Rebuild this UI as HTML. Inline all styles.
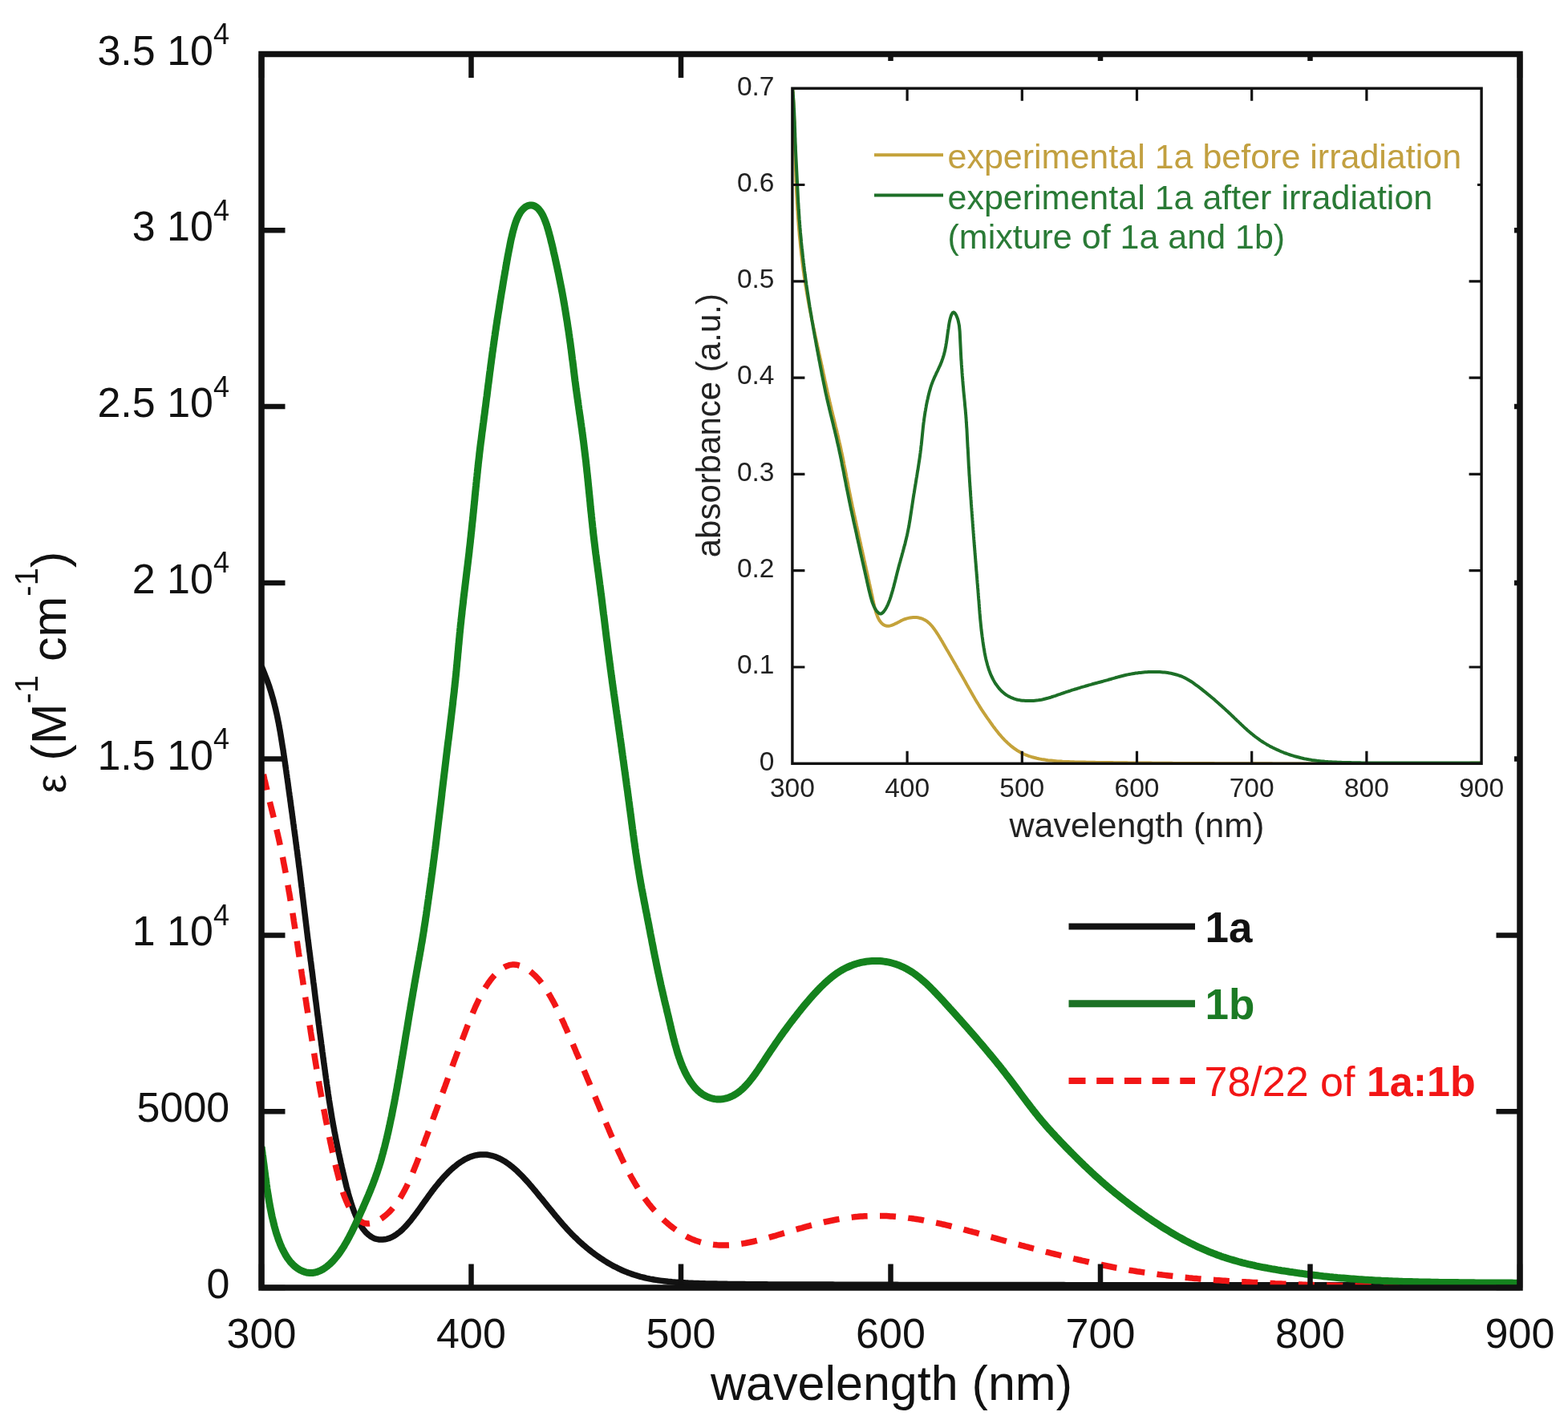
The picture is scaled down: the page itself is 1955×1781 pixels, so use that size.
<!DOCTYPE html>
<html><head><meta charset="utf-8"><title>Absorption spectra</title>
<style>
html,body{margin:0;padding:0;background:#fff;}
body{width:1955px;height:1781px;overflow:hidden;}
svg{display:block;}
</style></head><body>
<svg xmlns="http://www.w3.org/2000/svg" width="1955" height="1781" viewBox="0 0 1955 1781">
<rect x="0" y="0" width="1955" height="1781" fill="#ffffff"/>
<defs><clipPath id="cm"><rect x="326.0" y="67.5" width="1569.0" height="1538.5"/></clipPath><clipPath id="ci"><rect x="987.9" y="110.2" width="859.2" height="842.1"/></clipPath></defs>
<g clip-path="url(#cm)" fill="none" stroke-linejoin="round">
<path d="M326.1,831.0L327.0,833.3 328.0,835.6 328.9,837.9 329.8,840.2 330.7,842.6 331.6,844.9 332.5,847.2 333.4,849.6 334.2,851.9 335.1,854.3 335.9,856.6 336.6,859.0 337.4,861.4 338.1,863.7 338.8,866.1 339.5,868.5 340.2,870.9 340.9,873.3 341.5,875.8 342.1,878.2 342.7,880.6 343.3,883.0 343.9,885.5 344.4,887.9 345.0,890.4 345.5,892.8 346.0,895.3 346.5,897.7 347.0,900.2 347.5,902.6 347.9,905.1 348.4,907.6 348.8,910.0 349.3,912.5 349.7,915.0 350.1,917.4 350.5,919.9 350.9,922.4 351.3,924.8 351.7,927.3 352.1,929.8 352.5,932.3 352.9,934.7 353.3,937.2 353.6,939.7 354.0,942.2 354.4,944.7 354.7,947.1 355.1,949.6 355.5,952.1 355.8,954.6 356.2,957.1 356.5,959.5 356.9,962.0 357.2,964.5 357.6,967.0 357.9,969.5 358.3,972.0 358.6,974.4 359.0,976.9 359.3,979.4 359.6,981.9 360.0,984.4 360.3,986.8 360.7,989.3 361.0,991.8 361.4,994.3 361.7,996.8 362.0,999.2 362.4,1001.7 362.7,1004.2 363.0,1006.7 363.4,1009.2 363.7,1011.7 364.1,1014.1 364.4,1016.6 364.7,1019.1 365.1,1021.6 365.4,1024.1 365.7,1026.5 366.1,1029.0 366.4,1031.5 366.7,1034.0 367.1,1036.5 367.4,1039.0 367.7,1041.4 368.1,1043.9 368.4,1046.4 368.7,1048.9 369.0,1051.4 369.4,1053.9 369.7,1056.3 370.0,1058.8 370.4,1061.3 370.7,1063.8 371.0,1066.3 371.3,1068.8 371.7,1071.2 372.0,1073.7 372.3,1076.2 372.6,1078.7 372.9,1081.2 373.3,1083.7 373.6,1086.1 373.9,1088.6 374.2,1091.1 374.5,1093.6 374.8,1096.1 375.1,1098.6 375.4,1101.1 375.7,1103.5 376.0,1106.0 376.4,1108.5 376.6,1111.0 376.9,1113.5 377.2,1116.0 377.5,1118.5 377.8,1120.9 378.1,1123.4 378.4,1125.9 378.7,1128.4 379.0,1130.9 379.3,1133.4 379.6,1135.9 379.9,1138.4 380.2,1140.8 380.5,1143.3 380.8,1145.8 381.1,1148.3 381.4,1150.8 381.7,1153.3 382.0,1155.8 382.3,1158.2 382.6,1160.7 382.9,1163.2 383.2,1165.7 383.5,1168.2 383.8,1170.7 384.1,1173.2 384.5,1175.6 384.8,1178.1 385.1,1180.6 385.4,1183.1 385.7,1185.6 386.1,1188.1 386.4,1190.5 386.7,1193.0 387.0,1195.5 387.3,1198.0 387.7,1200.5 388.0,1203.0 388.3,1205.4 388.6,1207.9 388.9,1210.4 389.3,1212.9 389.6,1215.4 389.9,1217.9 390.2,1220.4 390.5,1222.8 390.8,1225.3 391.2,1227.8 391.5,1230.3 391.8,1232.8 392.1,1235.3 392.4,1237.7 392.7,1240.2 393.0,1242.7 393.3,1245.2 393.6,1247.7 394.0,1250.2 394.3,1252.7 394.6,1255.1 394.9,1257.6 395.2,1260.1 395.5,1262.6 395.8,1265.1 396.2,1267.6 396.5,1270.0 396.8,1272.5 397.1,1275.0 397.4,1277.5 397.8,1280.0 398.1,1282.5 398.4,1285.0 398.7,1287.4 399.1,1289.9 399.4,1292.4 399.7,1294.9 400.1,1297.4 400.4,1299.8 400.7,1302.3 401.1,1304.8 401.4,1307.3 401.7,1309.8 402.0,1312.3 402.4,1314.7 402.7,1317.2 403.0,1319.7 403.4,1322.2 403.7,1324.7 404.0,1327.2 404.4,1329.6 404.7,1332.1 405.1,1334.6 405.4,1337.1 405.7,1339.6 406.1,1342.0 406.4,1344.5 406.8,1347.0 407.1,1349.5 407.4,1352.0 407.8,1354.4 408.1,1356.9 408.5,1359.4 408.9,1361.9 409.2,1364.3 409.6,1366.8 410.0,1369.3 410.3,1371.8 410.7,1374.2 411.1,1376.7 411.5,1379.2 411.9,1381.7 412.3,1384.1 412.7,1386.6 413.1,1389.1 413.5,1391.5 413.9,1394.0 414.3,1396.5 414.8,1398.9 415.2,1401.4 415.6,1403.8 416.1,1406.3 416.6,1408.8 417.0,1411.2 417.5,1413.7 418.0,1416.1 418.4,1418.6 418.9,1421.1 419.4,1423.5 419.9,1426.0 420.4,1428.4 420.9,1430.9 421.4,1433.4 421.9,1435.8 422.4,1438.3 423.0,1440.7 423.5,1443.2 424.0,1445.7 424.6,1448.2 425.1,1450.6 425.7,1453.1 426.2,1455.6 426.8,1458.1 427.3,1460.5 427.9,1463.0 428.5,1465.5 429.1,1468.0 429.7,1470.5 430.3,1473.0 430.9,1475.5 431.5,1478.0 432.1,1480.5 432.8,1483.0 433.5,1485.5 434.1,1488.0 434.8,1490.5 435.5,1492.9 436.3,1495.4 437.0,1497.9 437.8,1500.4 438.6,1502.9 439.4,1505.3 440.3,1507.8 441.2,1510.2 442.1,1512.6 443.1,1515.0 444.1,1517.4 445.2,1519.7 446.3,1522.0 447.4,1524.3 448.7,1526.5 449.9,1528.6 451.3,1530.7 452.7,1532.8 454.2,1534.7 455.8,1536.6 457.5,1538.3 459.3,1539.9 461.2,1541.4 463.1,1542.7 465.2,1543.8 467.4,1544.8 469.7,1545.4 472.1,1545.9 474.5,1546.0 477.0,1546.0 479.5,1545.8 481.9,1545.3 484.2,1544.7 486.5,1543.9 488.7,1542.9 490.8,1541.8 492.9,1540.5 494.9,1539.1 496.9,1537.6 498.8,1536.1 500.7,1534.4 502.5,1532.7 504.3,1530.9 506.0,1529.1 507.8,1527.2 509.4,1525.2 511.1,1523.3 512.7,1521.3 514.3,1519.2 515.9,1517.2 517.4,1515.1 519.0,1513.1 520.5,1511.0 522.0,1508.9 523.6,1506.8 525.1,1504.6 526.6,1502.5 528.1,1500.4 529.6,1498.3 531.1,1496.2 532.6,1494.1 534.1,1492.0 535.6,1489.9 537.2,1487.8 538.7,1485.7 540.3,1483.7 541.8,1481.6 543.4,1479.6 545.1,1477.6 546.7,1475.6 548.3,1473.6 550.0,1471.7 551.7,1469.7 553.4,1467.8 555.2,1466.0 557.0,1464.1 558.7,1462.3 560.6,1460.5 562.4,1458.8 564.3,1457.1 566.2,1455.4 568.2,1453.9 570.1,1452.3 572.1,1450.8 574.2,1449.4 576.3,1448.1 578.4,1446.8 580.5,1445.6 582.7,1444.5 584.9,1443.5 587.2,1442.6 589.5,1441.8 591.8,1441.2 594.1,1440.7 596.5,1440.3 598.9,1440.0 601.3,1439.9 603.7,1439.9 606.1,1440.0 608.5,1440.3 610.9,1440.8 613.2,1441.3 615.6,1442.0 617.9,1442.8 620.1,1443.7 622.4,1444.7 624.6,1445.8 626.7,1447.0 628.9,1448.2 631.0,1449.6 633.0,1451.0 635.0,1452.4 637.0,1454.0 639.0,1455.5 640.9,1457.2 642.8,1458.8 644.7,1460.5 646.5,1462.3 648.3,1464.1 650.1,1465.9 651.9,1467.7 653.6,1469.6 655.3,1471.4 657.1,1473.3 658.8,1475.2 660.4,1477.1 662.1,1479.1 663.8,1481.0 665.4,1483.0 667.1,1484.9 668.7,1486.9 670.3,1488.8 671.9,1490.8 673.5,1492.8 675.1,1494.7 676.7,1496.7 678.3,1498.7 679.9,1500.6 681.5,1502.6 683.1,1504.6 684.7,1506.5 686.3,1508.5 687.9,1510.4 689.5,1512.4 691.1,1514.3 692.7,1516.3 694.3,1518.2 695.9,1520.1 697.5,1522.1 699.2,1524.0 700.8,1525.9 702.4,1527.8 704.1,1529.6 705.8,1531.5 707.5,1533.4 709.2,1535.2 710.9,1537.0 712.6,1538.8 714.4,1540.6 716.2,1542.4 718.0,1544.1 719.8,1545.8 721.6,1547.6 723.4,1549.2 725.3,1550.9 727.2,1552.6 729.1,1554.2 731.0,1555.8 732.9,1557.4 734.9,1559.0 736.8,1560.5 738.8,1562.1 740.8,1563.6 742.8,1565.0 744.9,1566.5 746.9,1567.9 749.0,1569.3 751.1,1570.7 753.2,1572.1 755.3,1573.4 757.4,1574.7 759.6,1576.0 761.8,1577.2 763.9,1578.4 766.1,1579.6 768.4,1580.7 770.6,1581.8 772.8,1582.9 775.1,1584.0 777.4,1585.0 779.7,1585.9 782.0,1586.9 784.3,1587.7 786.7,1588.6 789.0,1589.4 791.4,1590.2 793.8,1590.9 796.2,1591.6 798.6,1592.3 801.0,1592.9 803.4,1593.5 805.8,1594.1 808.3,1594.6 810.7,1595.1 813.2,1595.5 815.6,1596.0 818.1,1596.4 820.6,1596.8 823.0,1597.1 825.5,1597.4 828.0,1597.7 830.5,1598.0 833.0,1598.3 835.5,1598.5 838.0,1598.8 840.5,1599.0 843.0,1599.2 845.5,1599.3 848.0,1599.5 850.5,1599.7 853.0,1599.8 855.5,1599.9 858.0,1600.1 860.5,1600.2 863.0,1600.3 865.5,1600.4 868.0,1600.5 870.6,1600.6 873.1,1600.7 875.6,1600.7 878.1,1600.8 880.6,1600.9 883.1,1600.9 885.6,1601.0 888.1,1601.0 890.6,1601.1 893.1,1601.1 895.6,1601.2 898.2,1601.2 900.7,1601.3 903.2,1601.3 905.7,1601.3 908.2,1601.4 910.7,1601.4 913.2,1601.5 915.7,1601.5 918.2,1601.5 920.7,1601.5 923.2,1601.6 925.7,1601.6 928.2,1601.6 930.8,1601.7 933.3,1601.7 935.8,1601.7 938.3,1601.7 940.8,1601.7 943.3,1601.8 945.8,1601.8 948.3,1601.8 950.8,1601.8 953.3,1601.8 955.8,1601.8 958.3,1601.9 960.8,1601.9 963.3,1601.9 965.8,1601.9 968.3,1601.9 970.8,1601.9 973.3,1601.9 975.8,1601.9 978.3,1602.0 980.8,1602.0 983.4,1602.0 985.9,1602.0 988.4,1602.0 990.9,1602.0 993.4,1602.0 995.9,1602.0 998.4,1602.0 1000.9,1602.0 1003.4,1602.0 1005.9,1602.0 1008.4,1602.1 1010.9,1602.1 1013.4,1602.1 1015.9,1602.1 1018.4,1602.1 1020.9,1602.1 1023.4,1602.1 1025.9,1602.1 1028.4,1602.1 1030.9,1602.1 1033.4,1602.1 1035.9,1602.1 1038.4,1602.1 1040.9,1602.2 1043.4,1602.2 1046.0,1602.2 1048.5,1602.2 1051.0,1602.2 1053.5,1602.2 1056.0,1602.2 1058.5,1602.2 1061.0,1602.2 1063.5,1602.2 1066.0,1602.2 1068.5,1602.2 1071.0,1602.2 1073.5,1602.2 1076.0,1602.2 1078.5,1602.3 1081.0,1602.3 1083.5,1602.3 1086.0,1602.3 1088.5,1602.3 1091.0,1602.3 1093.5,1602.3 1096.0,1602.3 1098.5,1602.3 1101.1,1602.3 1103.6,1602.3 1106.1,1602.3 1108.6,1602.3 1111.1,1602.3 1113.6,1602.3 1116.1,1602.3 1118.6,1602.3 1121.1,1602.4 1123.6,1602.4 1126.1,1602.4 1128.6,1602.4 1131.1,1602.4 1133.6,1602.4 1136.1,1602.4 1138.6,1602.4 1141.1,1602.4 1143.6,1602.4 1146.1,1602.4 1148.6,1602.4 1151.1,1602.4 1153.6,1602.4 1156.2,1602.4 1158.7,1602.4 1161.2,1602.4 1163.7,1602.4 1166.2,1602.4 1168.7,1602.4 1171.2,1602.5 1173.7,1602.5 1176.2,1602.5 1178.7,1602.5 1181.2,1602.5 1183.7,1602.5 1186.2,1602.5 1188.7,1602.5 1191.2,1602.5 1193.7,1602.5 1196.2,1602.5 1198.7,1602.5 1201.2,1602.5 1203.7,1602.5 1206.2,1602.5 1208.8,1602.5 1211.3,1602.5 1213.8,1602.5 1216.3,1602.5 1218.8,1602.5 1221.3,1602.5 1223.8,1602.5 1226.3,1602.5 1228.8,1602.5 1231.3,1602.5 1233.8,1602.5 1236.3,1602.6 1238.8,1602.6 1241.3,1602.6 1243.8,1602.6 1246.3,1602.6 1248.8,1602.6 1251.3,1602.6 1253.8,1602.6 1256.3,1602.6 1258.8,1602.6 1261.3,1602.6 1263.9,1602.6 1266.4,1602.6 1268.9,1602.6 1271.4,1602.6 1273.9,1602.6 1276.4,1602.6 1278.9,1602.6 1281.4,1602.6 1283.9,1602.6 1286.4,1602.6 1288.9,1602.6 1291.4,1602.6 1293.9,1602.6 1296.4,1602.6 1298.9,1602.6 1301.4,1602.6 1303.9,1602.6 1306.4,1602.6 1308.9,1602.6 1311.4,1602.6 1313.9,1602.6 1316.5,1602.6 1319.0,1602.6 1321.5,1602.6 1324.0,1602.6 1326.5,1602.6 1329.0,1602.7 1331.5,1602.7 1334.0,1602.7 1336.5,1602.7 1339.0,1602.7 1341.5,1602.7 1344.0,1602.7 1346.5,1602.7 1349.0,1602.7 1351.5,1602.7 1354.0,1602.7 1356.5,1602.7 1359.0,1602.7 1361.5,1602.7 1364.0,1602.7 1366.5,1602.7 1369.0,1602.7 1371.6,1602.7 1374.1,1602.7 1376.6,1602.7 1379.1,1602.7 1381.6,1602.7 1384.1,1602.7 1386.6,1602.7 1389.1,1602.7 1391.6,1602.7 1394.1,1602.7 1396.6,1602.7 1399.1,1602.7 1401.6,1602.7 1404.1,1602.7 1406.6,1602.7 1409.1,1602.7 1411.6,1602.7 1414.1,1602.7 1416.6,1602.7 1419.1,1602.7 1421.6,1602.7 1424.2,1602.7 1426.7,1602.7 1429.2,1602.7 1431.7,1602.7 1434.2,1602.7 1436.7,1602.7 1439.2,1602.7 1441.7,1602.7 1444.2,1602.7 1446.7,1602.7 1449.2,1602.7 1451.7,1602.7 1454.2,1602.7 1456.7,1602.7 1459.2,1602.7 1461.7,1602.7 1464.2,1602.7 1466.7,1602.7 1469.2,1602.7 1471.7,1602.7 1474.2,1602.7 1476.7,1602.7 1479.3,1602.7 1481.8,1602.7 1484.3,1602.7 1486.8,1602.7 1489.3,1602.7 1491.8,1602.7 1494.3,1602.7 1496.8,1602.7 1499.3,1602.7 1501.8,1602.7 1504.3,1602.7 1506.8,1602.7 1509.3,1602.7 1511.8,1602.7 1514.3,1602.7 1516.8,1602.7 1519.3,1602.7 1521.8,1602.7 1524.3,1602.7 1526.8,1602.7 1529.3,1602.7 1531.8,1602.7 1534.4,1602.7 1536.9,1602.7 1539.4,1602.7 1541.9,1602.7 1544.4,1602.7 1546.9,1602.7 1549.4,1602.7 1551.9,1602.7 1554.4,1602.7 1556.9,1602.7 1559.4,1602.7 1561.9,1602.7 1564.4,1602.7 1566.9,1602.7 1569.4,1602.7 1571.9,1602.7 1574.4,1602.7 1576.9,1602.7 1579.4,1602.7 1581.9,1602.7 1584.4,1602.7 1586.9,1602.7 1589.5,1602.7 1592.0,1602.7 1594.5,1602.7 1597.0,1602.7 1599.5,1602.7 1602.0,1602.7 1604.5,1602.7 1607.0,1602.7 1609.5,1602.7 1612.0,1602.7 1614.5,1602.7 1617.0,1602.7 1619.5,1602.7 1622.0,1602.7 1624.5,1602.7 1627.0,1602.7 1629.5,1602.7 1632.0,1602.7 1634.5,1602.7 1637.0,1602.7 1639.5,1602.7 1642.0,1602.7 1644.6,1602.7 1647.1,1602.7 1649.6,1602.7 1652.1,1602.7 1654.6,1602.7 1657.1,1602.7 1659.6,1602.7 1662.1,1602.7 1664.6,1602.7 1667.1,1602.7 1669.6,1602.7 1672.1,1602.7 1674.6,1602.7 1677.1,1602.7 1679.6,1602.7 1682.1,1602.7 1684.6,1602.7 1687.1,1602.7 1689.6,1602.6 1692.1,1602.6 1694.6,1602.6 1697.1,1602.6 1699.6,1602.6 1702.2,1602.6 1704.7,1602.6 1707.2,1602.6 1709.7,1602.6 1712.2,1602.6 1714.7,1602.6 1717.2,1602.6 1719.7,1602.6 1722.2,1602.6 1724.7,1602.6 1727.2,1602.6 1729.7,1602.6 1732.2,1602.6 1734.7,1602.6 1737.2,1602.6 1739.7,1602.6 1742.2,1602.6 1744.7,1602.6 1747.2,1602.6 1749.7,1602.6 1752.2,1602.6 1754.7,1602.6 1757.3,1602.6 1759.8,1602.6 1762.3,1602.6 1764.8,1602.6 1767.3,1602.6 1769.8,1602.6 1772.3,1602.6 1774.8,1602.6 1777.3,1602.6 1779.8,1602.6 1782.3,1602.6 1784.8,1602.6 1787.3,1602.6 1789.8,1602.6 1792.3,1602.6 1794.8,1602.6 1797.3,1602.6 1799.8,1602.6 1802.3,1602.6 1804.8,1602.6 1807.3,1602.6 1809.8,1602.6 1812.4,1602.6 1814.9,1602.6 1817.4,1602.6 1819.9,1602.6 1822.4,1602.6 1824.9,1602.6 1827.4,1602.6 1829.9,1602.6 1832.4,1602.5 1834.9,1602.5 1837.4,1602.5 1839.9,1602.5 1842.4,1602.5 1844.9,1602.5 1847.4,1602.5 1849.9,1602.5 1852.4,1602.5 1854.9,1602.5 1857.4,1602.5 1859.9,1602.5 1862.4,1602.5 1864.9,1602.5 1867.5,1602.5 1870.0,1602.5 1872.5,1602.5 1875.0,1602.5 1877.5,1602.5 1880.0,1602.5 1882.5,1602.5 1885.0,1602.5 1887.5,1602.5 1890.0,1602.5 1892.5,1602.5 1895.0,1602.5" stroke="#121212" stroke-width="7.5"/>
<path d="M326.0,955.0L326.5,957.4 327.1,959.9 327.6,962.3 328.2,964.8 328.7,967.2 329.3,969.7 329.8,972.1 330.4,974.5 331.0,977.0 331.5,979.4 332.1,981.8 332.7,984.3 333.2,986.7 333.8,989.2 334.4,991.6 335.0,994.0 335.6,996.5 336.1,998.9 336.7,1001.3 337.3,1003.8 337.9,1006.2 338.5,1008.6 339.1,1011.0 339.7,1013.5 340.3,1015.9 340.9,1018.3 341.5,1020.8 342.1,1023.2 342.7,1025.6 343.3,1028.1 343.9,1030.5 344.4,1032.9 345.0,1035.4 345.6,1037.8 346.2,1040.2 346.7,1042.7 347.3,1045.1 347.8,1047.5 348.4,1050.0 348.9,1052.4 349.4,1054.9 350.0,1057.3 350.5,1059.8 351.0,1062.2 351.5,1064.7 352.0,1067.1 352.5,1069.6 353.0,1072.0 353.4,1074.5 353.9,1076.9 354.4,1079.4 354.9,1081.9 355.3,1084.3 355.8,1086.8 356.3,1089.2 356.7,1091.7 357.2,1094.2 357.6,1096.6 358.1,1099.1 358.5,1101.5 358.9,1104.0 359.4,1106.5 359.8,1108.9 360.2,1111.4 360.7,1113.9 361.1,1116.3 361.5,1118.8 361.9,1121.3 362.3,1123.7 362.8,1126.2 363.2,1128.7 363.6,1131.2 364.0,1133.6 364.4,1136.1 364.8,1138.6 365.2,1141.0 365.6,1143.5 366.0,1146.0 366.3,1148.5 366.7,1150.9 367.1,1153.4 367.5,1155.9 367.9,1158.3 368.3,1160.8 368.6,1163.3 369.0,1165.8 369.4,1168.2 369.8,1170.7 370.1,1173.2 370.5,1175.7 370.9,1178.1 371.2,1180.6 371.6,1183.1 372.0,1185.6 372.3,1188.0 372.7,1190.5 373.1,1193.0 373.4,1195.5 373.8,1198.0 374.2,1200.4 374.5,1202.9 374.9,1205.4 375.2,1207.9 375.6,1210.3 376.0,1212.8 376.3,1215.3 376.7,1217.8 377.1,1220.2 377.5,1222.7 377.8,1225.2 378.2,1227.7 378.6,1230.1 379.0,1232.6 379.4,1235.1 379.7,1237.6 380.1,1240.0 380.5,1242.5 380.9,1245.0 381.3,1247.5 381.7,1249.9 382.0,1252.4 382.4,1254.9 382.8,1257.3 383.2,1259.8 383.6,1262.3 384.0,1264.8 384.3,1267.2 384.7,1269.7 385.1,1272.2 385.5,1274.7 385.9,1277.1 386.3,1279.6 386.7,1282.1 387.1,1284.5 387.4,1287.0 387.8,1289.5 388.2,1292.0 388.6,1294.4 389.0,1296.9 389.4,1299.4 389.8,1301.9 390.2,1304.3 390.6,1306.8 390.9,1309.3 391.3,1311.7 391.7,1314.2 392.1,1316.7 392.5,1319.2 392.9,1321.6 393.3,1324.1 393.7,1326.6 394.1,1329.0 394.5,1331.5 394.9,1334.0 395.3,1336.4 395.7,1338.9 396.2,1341.4 396.6,1343.8 397.0,1346.3 397.4,1348.8 397.8,1351.2 398.2,1353.7 398.7,1356.1 399.1,1358.6 399.5,1361.1 400.0,1363.5 400.4,1366.0 400.9,1368.4 401.3,1370.9 401.8,1373.3 402.2,1375.8 402.7,1378.2 403.2,1380.7 403.6,1383.2 404.1,1385.6 404.6,1388.1 405.1,1390.5 405.5,1393.0 406.0,1395.4 406.5,1397.9 407.0,1400.3 407.5,1402.8 408.0,1405.3 408.5,1407.7 409.0,1410.2 409.5,1412.6 410.0,1415.1 410.5,1417.6 411.0,1420.1 411.5,1422.5 412.0,1425.0 412.6,1427.5 413.1,1430.0 413.6,1432.4 414.2,1434.9 414.7,1437.4 415.3,1439.9 415.8,1442.4 416.4,1444.9 416.9,1447.4 417.5,1449.9 418.1,1452.5 418.7,1455.0 419.3,1457.5 419.9,1460.0 420.6,1462.5 421.2,1465.1 421.9,1467.6 422.5,1470.1 423.2,1472.7 423.9,1475.2 424.7,1477.7 425.4,1480.3 426.2,1482.8 427.0,1485.3 427.8,1487.7 428.7,1490.2 429.6,1492.7 430.6,1495.1 431.5,1497.5 432.6,1499.9 433.6,1502.3 434.8,1504.6 436.0,1506.8 437.2,1509.0 438.5,1511.2 439.9,1513.2 441.3,1515.2 442.9,1517.1 444.5,1518.9 446.2,1520.5 448.0,1522.0 449.8,1523.3 451.7,1524.4 453.7,1525.3 455.8,1525.8 457.9,1526.1 460.1,1526.0 462.3,1525.7 464.5,1525.2 466.7,1524.4 468.9,1523.5 471.1,1522.4 473.3,1521.2 475.5,1519.8 477.6,1518.2 479.7,1516.6 481.8,1514.9 483.7,1513.1 485.7,1511.2 487.5,1509.3 489.3,1507.3 491.0,1505.3 492.6,1503.2 494.2,1501.1 495.7,1499.0 497.2,1496.8 498.6,1494.7 500.0,1492.5 501.3,1490.2 502.5,1488.0 503.8,1485.7 505.0,1483.5 506.1,1481.2 507.3,1478.9 508.4,1476.6 509.5,1474.3 510.5,1472.0 511.6,1469.7 512.6,1467.4 513.6,1465.0 514.6,1462.7 515.5,1460.4 516.5,1458.0 517.4,1455.7 518.4,1453.3 519.3,1451.0 520.2,1448.7 521.1,1446.3 522.0,1444.0 522.9,1441.6 523.8,1439.3 524.6,1436.9 525.5,1434.5 526.4,1432.2 527.3,1429.8 528.1,1427.5 529.0,1425.1 529.9,1422.8 530.7,1420.4 531.6,1418.1 532.5,1415.7 533.3,1413.4 534.2,1411.1 535.1,1408.7 535.9,1406.4 536.8,1404.0 537.7,1401.7 538.5,1399.3 539.4,1397.0 540.2,1394.6 541.1,1392.3 542.0,1389.9 542.8,1387.6 543.7,1385.2 544.6,1382.9 545.4,1380.6 546.3,1378.2 547.1,1375.9 548.0,1373.5 548.9,1371.2 549.7,1368.8 550.6,1366.5 551.4,1364.1 552.3,1361.8 553.2,1359.4 554.0,1357.1 554.9,1354.7 555.7,1352.4 556.6,1350.0 557.4,1347.7 558.3,1345.3 559.1,1343.0 560.0,1340.7 560.9,1338.3 561.7,1336.0 562.6,1333.6 563.4,1331.3 564.3,1328.9 565.2,1326.6 566.0,1324.2 566.9,1321.9 567.8,1319.5 568.7,1317.2 569.5,1314.8 570.4,1312.5 571.3,1310.1 572.2,1307.8 573.1,1305.4 573.9,1303.1 574.8,1300.7 575.7,1298.3 576.6,1296.0 577.5,1293.6 578.4,1291.3 579.3,1288.9 580.2,1286.5 581.1,1284.2 582.0,1281.8 582.9,1279.4 583.9,1277.1 584.8,1274.7 585.8,1272.3 586.7,1269.9 587.7,1267.6 588.7,1265.2 589.7,1262.8 590.7,1260.5 591.7,1258.1 592.7,1255.8 593.8,1253.4 594.9,1251.1 596.0,1248.7 597.1,1246.4 598.3,1244.1 599.5,1241.8 600.7,1239.5 601.9,1237.3 603.2,1235.0 604.5,1232.8 605.9,1230.6 607.3,1228.5 608.7,1226.3 610.2,1224.2 611.7,1222.1 613.3,1220.1 614.9,1218.2 616.6,1216.3 618.4,1214.4 620.1,1212.7 622.0,1211.1 623.9,1209.5 625.9,1208.1 627.9,1206.8 630.0,1205.6 632.1,1204.7 634.3,1203.9 636.5,1203.4 638.7,1203.1 641.0,1203.0 643.3,1203.2 645.6,1203.7 647.8,1204.3 650.1,1205.1 652.3,1206.0 654.5,1207.1 656.6,1208.4 658.7,1209.8 660.7,1211.2 662.7,1212.8 664.6,1214.5 666.5,1216.2 668.3,1218.0 670.1,1219.8 671.8,1221.7 673.4,1223.7 675.0,1225.7 676.6,1227.7 678.1,1229.8 679.5,1231.9 681.0,1234.0 682.3,1236.2 683.7,1238.3 685.0,1240.6 686.3,1242.8 687.5,1245.0 688.8,1247.3 690.0,1249.6 691.2,1251.8 692.4,1254.1 693.5,1256.4 694.7,1258.7 695.8,1261.0 696.9,1263.3 698.0,1265.6 699.1,1267.9 700.1,1270.2 701.2,1272.5 702.3,1274.8 703.3,1277.1 704.3,1279.5 705.4,1281.8 706.4,1284.1 707.4,1286.4 708.4,1288.7 709.4,1291.0 710.4,1293.4 711.4,1295.7 712.4,1298.0 713.4,1300.3 714.4,1302.6 715.4,1304.9 716.4,1307.2 717.4,1309.6 718.3,1311.9 719.3,1314.2 720.3,1316.5 721.3,1318.8 722.3,1321.1 723.2,1323.4 724.2,1325.7 725.2,1328.0 726.1,1330.3 727.1,1332.6 728.1,1334.9 729.1,1337.2 730.0,1339.5 731.0,1341.8 732.0,1344.2 732.9,1346.5 733.9,1348.8 734.9,1351.1 735.8,1353.4 736.8,1355.7 737.8,1358.0 738.7,1360.3 739.7,1362.6 740.7,1364.9 741.6,1367.2 742.6,1369.5 743.6,1371.8 744.5,1374.1 745.5,1376.5 746.5,1378.8 747.4,1381.1 748.4,1383.4 749.3,1385.7 750.3,1388.0 751.3,1390.3 752.2,1392.6 753.2,1394.9 754.2,1397.2 755.1,1399.5 756.1,1401.9 757.1,1404.2 758.1,1406.5 759.1,1408.8 760.0,1411.1 761.0,1413.4 762.0,1415.7 763.0,1418.0 764.0,1420.3 765.0,1422.6 766.0,1424.9 767.1,1427.2 768.1,1429.4 769.1,1431.7 770.2,1434.0 771.2,1436.3 772.3,1438.6 773.4,1440.8 774.4,1443.1 775.5,1445.4 776.6,1447.6 777.7,1449.9 778.8,1452.1 780.0,1454.3 781.1,1456.6 782.3,1458.8 783.4,1461.0 784.6,1463.2 785.8,1465.5 787.0,1467.7 788.2,1469.8 789.5,1472.0 790.7,1474.2 792.0,1476.4 793.3,1478.5 794.6,1480.7 795.9,1482.8 797.2,1484.9 798.6,1487.0 800.0,1489.1 801.4,1491.2 802.8,1493.2 804.3,1495.3 805.8,1497.3 807.3,1499.3 808.8,1501.3 810.4,1503.2 812.0,1505.2 813.6,1507.1 815.3,1509.0 817.0,1510.8 818.7,1512.7 820.4,1514.5 822.2,1516.3 824.0,1518.1 825.8,1519.8 827.6,1521.6 829.5,1523.3 831.4,1524.9 833.3,1526.6 835.2,1528.2 837.2,1529.8 839.1,1531.3 841.2,1532.8 843.2,1534.3 845.2,1535.7 847.3,1537.1 849.4,1538.5 851.6,1539.8 853.7,1541.0 855.9,1542.2 858.2,1543.3 860.4,1544.4 862.7,1545.4 865.0,1546.3 867.3,1547.2 869.7,1548.0 872.1,1548.8 874.5,1549.5 876.9,1550.1 879.3,1550.7 881.8,1551.2 884.3,1551.6 886.7,1552.0 889.2,1552.3 891.7,1552.6 894.2,1552.8 896.7,1552.9 899.2,1553.0 901.7,1553.1 904.2,1553.1 906.7,1553.0 909.2,1552.9 911.7,1552.7 914.2,1552.5 916.7,1552.3 919.2,1552.0 921.6,1551.6 924.1,1551.3 926.6,1550.9 929.0,1550.5 931.5,1550.0 934.0,1549.5 936.4,1549.0 938.9,1548.5 941.3,1547.9 943.7,1547.3 946.2,1546.7 948.6,1546.1 951.0,1545.5 953.5,1544.8 955.9,1544.2 958.3,1543.5 960.7,1542.8 963.2,1542.1 965.6,1541.5 968.0,1540.8 970.4,1540.0 972.8,1539.3 975.2,1538.6 977.6,1537.9 980.1,1537.2 982.5,1536.5 984.9,1535.8 987.3,1535.1 989.7,1534.3 992.1,1533.6 994.5,1532.9 996.9,1532.2 999.4,1531.6 1001.8,1530.9 1004.2,1530.2 1006.6,1529.5 1009.0,1528.9 1011.5,1528.2 1013.9,1527.6 1016.3,1527.0 1018.7,1526.4 1021.2,1525.8 1023.6,1525.2 1026.0,1524.6 1028.5,1524.0 1030.9,1523.5 1033.4,1523.0 1035.8,1522.5 1038.3,1522.0 1040.7,1521.5 1043.2,1521.0 1045.7,1520.6 1048.1,1520.2 1050.6,1519.8 1053.1,1519.4 1055.5,1519.0 1058.0,1518.7 1060.5,1518.4 1063.0,1518.1 1065.4,1517.8 1067.9,1517.6 1070.4,1517.3 1072.9,1517.1 1075.4,1517.0 1077.9,1516.8 1080.4,1516.7 1082.9,1516.6 1085.4,1516.5 1087.9,1516.4 1090.4,1516.4 1092.9,1516.4 1095.4,1516.4 1097.9,1516.4 1100.4,1516.4 1102.9,1516.5 1105.4,1516.6 1107.9,1516.7 1110.3,1516.9 1112.8,1517.0 1115.3,1517.2 1117.8,1517.4 1120.3,1517.6 1122.8,1517.9 1125.3,1518.2 1127.8,1518.4 1130.3,1518.7 1132.7,1519.1 1135.2,1519.4 1137.7,1519.7 1140.2,1520.1 1142.7,1520.5 1145.1,1520.9 1147.6,1521.3 1150.1,1521.7 1152.5,1522.2 1155.0,1522.6 1157.5,1523.1 1159.9,1523.6 1162.4,1524.1 1164.8,1524.6 1167.3,1525.1 1169.7,1525.6 1172.2,1526.1 1174.6,1526.7 1177.1,1527.2 1179.5,1527.8 1181.9,1528.4 1184.4,1529.0 1186.8,1529.6 1189.2,1530.2 1191.7,1530.8 1194.1,1531.4 1196.5,1532.0 1198.9,1532.7 1201.4,1533.3 1203.8,1534.0 1206.2,1534.6 1208.6,1535.3 1211.0,1535.9 1213.4,1536.6 1215.9,1537.2 1218.3,1537.9 1220.7,1538.6 1223.1,1539.3 1225.5,1539.9 1227.9,1540.6 1230.3,1541.3 1232.8,1541.9 1235.2,1542.6 1237.6,1543.3 1240.0,1544.0 1242.4,1544.6 1244.8,1545.3 1247.2,1546.0 1249.6,1546.7 1252.0,1547.3 1254.5,1548.0 1256.9,1548.7 1259.3,1549.3 1261.7,1550.0 1264.1,1550.7 1266.5,1551.3 1268.9,1552.0 1271.4,1552.6 1273.8,1553.3 1276.2,1553.9 1278.6,1554.6 1281.0,1555.2 1283.4,1555.9 1285.9,1556.5 1288.3,1557.2 1290.7,1557.8 1293.1,1558.4 1295.5,1559.1 1298.0,1559.7 1300.4,1560.3 1302.8,1561.0 1305.2,1561.6 1307.7,1562.2 1310.1,1562.8 1312.5,1563.4 1314.9,1564.0 1317.4,1564.6 1319.8,1565.2 1322.2,1565.8 1324.7,1566.4 1327.1,1567.0 1329.5,1567.6 1332.0,1568.2 1334.4,1568.7 1336.8,1569.3 1339.3,1569.9 1341.7,1570.4 1344.2,1571.0 1346.6,1571.5 1349.0,1572.1 1351.5,1572.6 1353.9,1573.2 1356.4,1573.7 1358.8,1574.3 1361.2,1574.8 1363.7,1575.4 1366.1,1575.9 1368.6,1576.4 1371.0,1577.0 1373.5,1577.5 1375.9,1578.0 1378.4,1578.5 1380.8,1579.0 1383.3,1579.5 1385.7,1580.0 1388.2,1580.5 1390.6,1581.0 1393.1,1581.4 1395.6,1581.9 1398.0,1582.3 1400.5,1582.8 1402.9,1583.2 1405.4,1583.6 1407.9,1584.1 1410.3,1584.5 1412.8,1584.9 1415.3,1585.3 1417.8,1585.7 1420.2,1586.0 1422.7,1586.4 1425.2,1586.8 1427.7,1587.1 1430.1,1587.5 1432.6,1587.8 1435.1,1588.2 1437.6,1588.5 1440.0,1588.8 1442.5,1589.1 1445.0,1589.5 1447.5,1589.8 1450.0,1590.1 1452.5,1590.4 1455.0,1590.7 1457.4,1591.0 1459.9,1591.3 1462.4,1591.6 1464.9,1591.8 1467.4,1592.1 1469.9,1592.4 1472.4,1592.7 1474.8,1592.9 1477.3,1593.2 1479.8,1593.4 1482.3,1593.7 1484.8,1593.9 1487.3,1594.2 1489.8,1594.4 1492.3,1594.6 1494.8,1594.9 1497.3,1595.1 1499.8,1595.3 1502.3,1595.5 1504.8,1595.7 1507.2,1595.9 1509.7,1596.1 1512.2,1596.3 1514.7,1596.5 1517.2,1596.7 1519.7,1596.8 1522.2,1597.0 1524.7,1597.2 1527.2,1597.3 1529.7,1597.5 1532.2,1597.7 1534.7,1597.8 1537.2,1598.0 1539.7,1598.1 1542.2,1598.3 1544.7,1598.4 1547.2,1598.6 1549.7,1598.7 1552.2,1598.8 1554.7,1599.0 1557.2,1599.1 1559.7,1599.2 1562.2,1599.4 1564.7,1599.5 1567.2,1599.6 1569.7,1599.8 1572.2,1599.9 1574.7,1600.0 1577.2,1600.2 1579.7,1600.3 1582.2,1600.4 1584.7,1600.5 1587.2,1600.6 1589.7,1600.8 1592.2,1600.9 1594.7,1601.0 1597.2,1601.1 1599.7,1601.2 1602.2,1601.3 1604.7,1601.4 1607.2,1601.5 1609.7,1601.6 1612.2,1601.7 1614.7,1601.8 1617.2,1601.9 1619.7,1602.0 1622.2,1602.1 1624.7,1602.2 1627.2,1602.3 1629.7,1602.4 1632.2,1602.4 1634.7,1602.5 1637.2,1602.6 1639.7,1602.7 1642.2,1602.8 1644.7,1602.8 1647.2,1602.9 1649.7,1603.0 1652.2,1603.0 1654.7,1603.1 1657.2,1603.2 1659.7,1603.2 1662.2,1603.3 1664.7,1603.3 1667.2,1603.4 1669.7,1603.5 1672.2,1603.5 1674.8,1603.6 1677.3,1603.6 1679.8,1603.7 1682.3,1603.7 1684.8,1603.8 1687.3,1603.8 1689.8,1603.8 1692.3,1603.9 1694.8,1603.9 1697.3,1604.0 1699.8,1604.0 1702.3,1604.1 1704.8,1604.1 1707.3,1604.1 1709.8,1604.2 1712.3,1604.2 1714.8,1604.2 1717.3,1604.3 1719.8,1604.3 1722.3,1604.3 1724.8,1604.4 1727.3,1604.4 1729.8,1604.4 1732.3,1604.5 1734.8,1604.5 1737.3,1604.5 1739.8,1604.5 1742.3,1604.6 1744.8,1604.6 1747.3,1604.6 1749.8,1604.6 1752.3,1604.7 1754.8,1604.7 1757.3,1604.7 1759.8,1604.7 1762.3,1604.7 1764.8,1604.8 1767.4,1604.8 1769.9,1604.8 1772.4,1604.8 1774.9,1604.8 1777.4,1604.9 1779.9,1604.9 1782.4,1604.9 1784.9,1604.9 1787.4,1604.9 1789.9,1604.9 1792.4,1605.0 1794.9,1605.0 1797.4,1605.0 1799.9,1605.0 1802.4,1605.0 1804.9,1605.0 1807.4,1605.1 1809.9,1605.1 1812.4,1605.1 1814.9,1605.1 1817.4,1605.1 1819.9,1605.1 1822.4,1605.1 1824.9,1605.2 1827.4,1605.2 1829.9,1605.2 1832.4,1605.2 1834.9,1605.2 1837.4,1605.2 1839.9,1605.2 1842.4,1605.2 1844.9,1605.3 1847.4,1605.3 1849.9,1605.3 1852.5,1605.3 1855.0,1605.3 1857.5,1605.3 1860.0,1605.3 1862.5,1605.3 1865.0,1605.4 1867.5,1605.4 1870.0,1605.4 1872.5,1605.4 1875.0,1605.4 1877.5,1605.4 1880.0,1605.4 1882.5,1605.4 1885.0,1605.5 1887.5,1605.5 1890.0,1605.5 1892.5,1605.5 1895.0,1605.5" stroke="#f21616" stroke-width="7.5" stroke-dasharray="20 15.38" stroke-dashoffset="24.38"/>
<path d="M326.0,1430.0L326.3,1432.5 326.7,1435.0 327.0,1437.4 327.3,1439.9 327.7,1442.4 328.0,1444.9 328.3,1447.3 328.6,1449.8 329.0,1452.3 329.3,1454.8 329.6,1457.2 329.9,1459.7 330.3,1462.2 330.6,1464.7 330.9,1467.2 331.2,1469.7 331.6,1472.1 331.9,1474.6 332.2,1477.1 332.6,1479.6 332.9,1482.1 333.3,1484.6 333.7,1487.1 334.1,1489.5 334.5,1492.0 334.9,1494.5 335.3,1497.0 335.7,1499.5 336.2,1502.0 336.6,1504.5 337.1,1507.0 337.6,1509.5 338.1,1512.0 338.6,1514.5 339.1,1517.0 339.7,1519.5 340.3,1521.9 340.9,1524.4 341.5,1526.9 342.1,1529.4 342.8,1531.9 343.5,1534.4 344.2,1536.8 345.0,1539.3 345.8,1541.7 346.6,1544.2 347.4,1546.6 348.4,1549.0 349.3,1551.4 350.3,1553.8 351.3,1556.1 352.4,1558.4 353.6,1560.7 354.8,1562.9 356.0,1565.1 357.3,1567.3 358.7,1569.4 360.2,1571.4 361.7,1573.4 363.3,1575.2 365.0,1577.0 366.8,1578.7 368.7,1580.3 370.6,1581.7 372.7,1583.1 374.8,1584.3 376.9,1585.3 379.1,1586.1 381.4,1586.8 383.7,1587.3 386.0,1587.5 388.3,1587.6 390.6,1587.4 392.8,1587.0 395.1,1586.4 397.3,1585.6 399.5,1584.7 401.6,1583.6 403.7,1582.3 405.7,1581.0 407.7,1579.5 409.6,1577.9 411.5,1576.3 413.3,1574.5 415.1,1572.7 416.8,1570.8 418.4,1568.9 420.1,1566.9 421.7,1564.9 423.2,1562.8 424.7,1560.7 426.1,1558.5 427.5,1556.3 428.9,1554.2 430.2,1551.9 431.5,1549.7 432.8,1547.5 434.0,1545.2 435.3,1542.9 436.4,1540.6 437.6,1538.4 438.8,1536.1 439.9,1533.8 441.0,1531.5 442.1,1529.2 443.2,1526.8 444.3,1524.5 445.3,1522.2 446.4,1519.9 447.4,1517.6 448.5,1515.3 449.5,1513.0 450.5,1510.7 451.6,1508.4 452.6,1506.1 453.6,1503.8 454.6,1501.5 455.6,1499.2 456.6,1496.9 457.6,1494.6 458.6,1492.3 459.6,1490.0 460.5,1487.7 461.5,1485.4 462.4,1483.1 463.3,1480.7 464.3,1478.4 465.2,1476.1 466.0,1473.8 466.9,1471.4 467.8,1469.1 468.6,1466.7 469.4,1464.4 470.3,1462.0 471.0,1459.7 471.8,1457.3 472.6,1454.9 473.3,1452.5 474.1,1450.1 474.8,1447.8 475.5,1445.4 476.1,1443.0 476.8,1440.6 477.5,1438.1 478.1,1435.7 478.7,1433.3 479.4,1430.9 480.0,1428.5 480.6,1426.0 481.2,1423.6 481.8,1421.2 482.4,1418.8 482.9,1416.3 483.5,1413.9 484.1,1411.4 484.6,1409.0 485.1,1406.6 485.7,1404.1 486.2,1401.7 486.7,1399.2 487.2,1396.8 487.8,1394.3 488.3,1391.9 488.8,1389.4 489.2,1387.0 489.7,1384.5 490.2,1382.1 490.7,1379.6 491.2,1377.1 491.7,1374.7 492.1,1372.2 492.6,1369.8 493.0,1367.3 493.5,1364.8 494.0,1362.4 494.4,1359.9 494.9,1357.5 495.3,1355.0 495.7,1352.5 496.2,1350.1 496.6,1347.6 497.0,1345.1 497.5,1342.7 497.9,1340.2 498.3,1337.7 498.7,1335.3 499.2,1332.8 499.6,1330.3 500.0,1327.9 500.4,1325.4 500.8,1322.9 501.2,1320.5 501.7,1318.0 502.1,1315.5 502.5,1313.1 502.9,1310.6 503.3,1308.1 503.7,1305.7 504.1,1303.2 504.5,1300.7 504.9,1298.3 505.3,1295.8 505.7,1293.3 506.1,1290.8 506.5,1288.4 507.0,1285.9 507.4,1283.4 507.8,1281.0 508.2,1278.5 508.6,1276.0 509.0,1273.6 509.4,1271.1 509.8,1268.6 510.2,1266.2 510.6,1263.7 511.0,1261.2 511.5,1258.8 511.9,1256.3 512.3,1253.8 512.7,1251.4 513.1,1248.9 513.5,1246.4 514.0,1244.0 514.4,1241.5 514.8,1239.0 515.2,1236.6 515.7,1234.1 516.1,1231.6 516.5,1229.2 516.9,1226.7 517.4,1224.2 517.8,1221.8 518.2,1219.3 518.7,1216.9 519.1,1214.4 519.5,1211.9 520.0,1209.5 520.4,1207.0 520.9,1204.5 521.3,1202.1 521.7,1199.6 522.2,1197.2 522.6,1194.7 523.1,1192.2 523.5,1189.8 523.9,1187.3 524.4,1184.8 524.8,1182.4 525.2,1179.9 525.6,1177.4 526.1,1175.0 526.5,1172.5 526.9,1170.0 527.3,1167.6 527.7,1165.1 528.1,1162.6 528.5,1160.2 528.8,1157.7 529.2,1155.2 529.6,1152.8 530.0,1150.3 530.4,1147.8 530.7,1145.3 531.1,1142.9 531.5,1140.4 531.8,1137.9 532.2,1135.4 532.5,1133.0 532.9,1130.5 533.2,1128.0 533.6,1125.5 533.9,1123.1 534.3,1120.6 534.6,1118.1 535.0,1115.6 535.3,1113.1 535.7,1110.7 536.0,1108.2 536.4,1105.7 536.7,1103.2 537.1,1100.8 537.4,1098.3 537.8,1095.8 538.1,1093.3 538.4,1090.8 538.8,1088.4 539.1,1085.9 539.4,1083.4 539.8,1080.9 540.1,1078.4 540.4,1076.0 540.7,1073.5 541.1,1071.0 541.4,1068.5 541.7,1066.0 542.0,1063.6 542.3,1061.1 542.7,1058.6 543.0,1056.1 543.3,1053.6 543.6,1051.1 543.9,1048.7 544.2,1046.2 544.5,1043.7 544.8,1041.2 545.1,1038.7 545.4,1036.2 545.7,1033.8 546.0,1031.3 546.3,1028.8 546.6,1026.3 546.9,1023.8 547.2,1021.3 547.5,1018.9 547.8,1016.4 548.1,1013.9 548.4,1011.4 548.7,1008.9 549.0,1006.4 549.3,1003.9 549.6,1001.5 549.9,999.0 550.2,996.5 550.5,994.0 550.8,991.5 551.0,989.0 551.3,986.6 551.6,984.1 551.9,981.6 552.2,979.1 552.5,976.6 552.8,974.1 553.1,971.7 553.4,969.2 553.7,966.7 554.0,964.2 554.3,961.7 554.6,959.2 554.9,956.7 555.2,954.3 555.5,951.8 555.8,949.3 556.1,946.8 556.4,944.3 556.7,941.8 557.0,939.4 557.3,936.9 557.6,934.4 557.9,931.9 558.2,929.4 558.5,926.9 558.8,924.5 559.2,922.0 559.5,919.5 559.8,917.0 560.1,914.5 560.4,912.0 560.7,909.6 561.0,907.1 561.3,904.6 561.6,902.1 561.9,899.6 562.2,897.1 562.5,894.7 562.8,892.2 563.1,889.7 563.4,887.2 563.7,884.7 564.0,882.2 564.3,879.8 564.6,877.3 564.8,874.8 565.1,872.3 565.4,869.8 565.7,867.3 566.0,864.8 566.3,862.4 566.5,859.9 566.8,857.4 567.1,854.9 567.3,852.4 567.6,849.9 567.9,847.4 568.1,845.0 568.4,842.5 568.6,840.0 568.9,837.5 569.1,835.0 569.3,832.5 569.6,830.0 569.8,827.5 570.0,825.0 570.3,822.5 570.5,820.1 570.7,817.6 570.9,815.1 571.2,812.6 571.4,810.1 571.6,807.6 571.8,805.1 572.1,802.6 572.3,800.1 572.5,797.6 572.8,795.1 573.0,792.7 573.2,790.2 573.5,787.7 573.7,785.2 574.0,782.7 574.2,780.2 574.5,777.7 574.8,775.2 575.0,772.7 575.3,770.3 575.6,767.8 575.9,765.3 576.1,762.8 576.4,760.3 576.7,757.8 577.0,755.3 577.3,752.9 577.6,750.4 577.8,747.9 578.1,745.4 578.4,742.9 578.7,740.4 579.0,738.0 579.3,735.5 579.6,733.0 579.9,730.5 580.2,728.0 580.5,725.5 580.8,723.0 581.1,720.6 581.4,718.1 581.7,715.6 582.0,713.1 582.3,710.6 582.6,708.1 582.9,705.7 583.2,703.2 583.5,700.7 583.8,698.2 584.1,695.7 584.4,693.2 584.7,690.8 585.0,688.3 585.2,685.8 585.5,683.3 585.8,680.8 586.1,678.3 586.4,675.8 586.6,673.4 586.9,670.9 587.2,668.4 587.4,665.9 587.7,663.4 588.0,660.9 588.2,658.4 588.5,655.9 588.7,653.5 589.0,651.0 589.3,648.5 589.5,646.0 589.8,643.5 590.0,641.0 590.3,638.5 590.5,636.0 590.8,633.5 591.0,631.0 591.3,628.6 591.5,626.1 591.8,623.6 592.0,621.1 592.2,618.6 592.5,616.1 592.7,613.6 593.0,611.1 593.2,608.6 593.5,606.2 593.7,603.7 594.0,601.2 594.2,598.7 594.5,596.2 594.8,593.7 595.0,591.2 595.3,588.7 595.5,586.2 595.8,583.8 596.1,581.3 596.3,578.8 596.6,576.3 596.9,573.8 597.2,571.3 597.5,568.8 597.7,566.4 598.0,563.9 598.3,561.4 598.6,558.9 598.9,556.4 599.2,553.9 599.5,551.5 599.9,549.0 600.2,546.5 600.5,544.0 600.8,541.5 601.1,539.0 601.5,536.6 601.8,534.1 602.1,531.6 602.4,529.1 602.8,526.6 603.1,524.2 603.4,521.7 603.7,519.2 604.1,516.7 604.4,514.2 604.7,511.8 605.0,509.3 605.4,506.8 605.7,504.3 606.0,501.8 606.3,499.4 606.6,496.9 607.0,494.4 607.3,491.9 607.6,489.4 607.9,486.9 608.2,484.5 608.5,482.0 608.8,479.5 609.2,477.0 609.5,474.5 609.8,472.1 610.1,469.6 610.4,467.1 610.7,464.6 611.1,462.1 611.4,459.7 611.7,457.2 612.0,454.7 612.4,452.2 612.7,449.7 613.0,447.3 613.4,444.8 613.7,442.3 614.0,439.8 614.4,437.4 614.7,434.9 615.1,432.4 615.4,429.9 615.8,427.5 616.1,425.0 616.5,422.5 616.8,420.1 617.2,417.6 617.5,415.1 617.9,412.6 618.3,410.2 618.6,407.7 619.0,405.2 619.4,402.8 619.8,400.3 620.1,397.8 620.5,395.4 620.9,392.9 621.3,390.4 621.7,388.0 622.1,385.5 622.5,383.0 622.8,380.6 623.2,378.1 623.6,375.6 624.0,373.2 624.4,370.7 624.8,368.2 625.2,365.7 625.6,363.3 626.1,360.8 626.5,358.3 626.9,355.8 627.3,353.3 627.7,350.8 628.1,348.4 628.5,345.9 629.0,343.4 629.4,340.8 629.8,338.3 630.3,335.8 630.7,333.3 631.1,330.8 631.6,328.2 632.0,325.7 632.5,323.2 632.9,320.6 633.4,318.1 633.9,315.5 634.4,312.9 634.9,310.4 635.4,307.8 635.9,305.2 636.4,302.6 636.9,300.1 637.5,297.5 638.1,294.9 638.7,292.4 639.3,289.8 640.0,287.2 640.7,284.7 641.4,282.2 642.2,279.7 643.0,277.2 643.9,274.8 644.8,272.5 645.9,270.2 647.0,268.0 648.2,265.9 649.5,263.9 651.0,262.0 652.6,260.3 654.3,258.8 656.2,257.5 658.2,256.6 660.3,256.0 662.5,255.9 664.6,256.2 666.6,257.0 668.5,258.1 670.3,259.5 671.9,261.2 673.3,263.0 674.7,264.9 675.9,267.0 677.1,269.2 678.1,271.5 679.1,273.8 680.0,276.2 680.9,278.6 681.8,281.1 682.5,283.6 683.3,286.1 684.0,288.7 684.7,291.2 685.4,293.8 686.1,296.3 686.7,298.9 687.3,301.5 688.0,304.0 688.6,306.6 689.2,309.1 689.8,311.7 690.3,314.2 690.9,316.8 691.5,319.3 692.1,321.8 692.6,324.4 693.2,326.9 693.7,329.4 694.3,331.9 694.8,334.4 695.3,336.9 695.9,339.4 696.4,341.9 696.9,344.4 697.4,346.9 697.9,349.3 698.4,351.8 698.9,354.3 699.4,356.8 699.9,359.2 700.3,361.7 700.8,364.2 701.3,366.6 701.7,369.1 702.2,371.6 702.6,374.0 703.0,376.5 703.5,379.0 703.9,381.4 704.3,383.9 704.7,386.3 705.1,388.8 705.5,391.3 705.9,393.7 706.3,396.2 706.7,398.7 707.1,401.1 707.5,403.6 707.8,406.1 708.2,408.5 708.6,411.0 709.0,413.5 709.3,415.9 709.7,418.4 710.0,420.9 710.4,423.3 710.7,425.8 711.1,428.3 711.4,430.8 711.7,433.2 712.1,435.7 712.4,438.2 712.7,440.7 713.0,443.1 713.3,445.6 713.6,448.1 714.0,450.6 714.3,453.1 714.6,455.5 714.9,458.0 715.2,460.5 715.5,463.0 715.8,465.5 716.1,468.0 716.4,470.4 716.7,472.9 717.0,475.4 717.4,477.9 717.7,480.4 718.0,482.8 718.3,485.3 718.7,487.8 719.0,490.3 719.4,492.7 719.7,495.2 720.1,497.7 720.4,500.2 720.8,502.6 721.1,505.1 721.5,507.6 721.8,510.1 722.2,512.6 722.5,515.0 722.9,517.5 723.3,520.0 723.6,522.5 724.0,524.9 724.3,527.4 724.7,529.9 725.0,532.4 725.4,534.8 725.7,537.3 726.0,539.8 726.4,542.3 726.7,544.8 727.0,547.2 727.4,549.7 727.7,552.2 728.0,554.7 728.3,557.2 728.6,559.6 728.9,562.1 729.2,564.6 729.5,567.1 729.8,569.6 730.1,572.1 730.4,574.5 730.7,577.0 730.9,579.5 731.2,582.0 731.5,584.5 731.7,587.0 732.0,589.5 732.3,592.0 732.5,594.4 732.8,596.9 733.0,599.4 733.3,601.9 733.5,604.4 733.8,606.9 734.0,609.4 734.3,611.9 734.5,614.4 734.8,616.8 735.0,619.3 735.3,621.8 735.5,624.3 735.8,626.8 736.0,629.3 736.2,631.8 736.5,634.3 736.7,636.8 737.0,639.3 737.3,641.7 737.5,644.2 737.8,646.7 738.0,649.2 738.3,651.7 738.6,654.2 738.8,656.7 739.1,659.2 739.4,661.6 739.6,664.1 739.9,666.6 740.2,669.1 740.5,671.6 740.8,674.1 741.1,676.6 741.4,679.0 741.7,681.5 742.0,684.0 742.3,686.5 742.6,689.0 742.9,691.4 743.3,693.9 743.6,696.4 743.9,698.9 744.2,701.4 744.6,703.8 744.9,706.3 745.2,708.8 745.5,711.3 745.9,713.8 746.2,716.2 746.5,718.7 746.9,721.2 747.2,723.7 747.5,726.2 747.8,728.6 748.2,731.1 748.5,733.6 748.8,736.1 749.1,738.6 749.4,741.1 749.8,743.5 750.1,746.0 750.4,748.5 750.7,751.0 751.0,753.5 751.3,755.9 751.6,758.4 751.9,760.9 752.2,763.4 752.5,765.9 752.9,768.4 753.2,770.8 753.5,773.3 753.8,775.8 754.1,778.3 754.4,780.8 754.7,783.3 755.0,785.7 755.3,788.2 755.6,790.7 755.9,793.2 756.2,795.7 756.5,798.2 756.9,800.6 757.2,803.1 757.5,805.6 757.8,808.1 758.1,810.6 758.4,813.0 758.7,815.5 759.1,818.0 759.4,820.5 759.7,823.0 760.0,825.5 760.4,827.9 760.7,830.4 761.0,832.9 761.3,835.4 761.7,837.9 762.0,840.3 762.3,842.8 762.7,845.3 763.0,847.8 763.3,850.2 763.7,852.7 764.0,855.2 764.4,857.7 764.7,860.2 765.1,862.6 765.4,865.1 765.8,867.6 766.1,870.1 766.5,872.5 766.8,875.0 767.2,877.5 767.5,880.0 767.9,882.5 768.2,884.9 768.6,887.4 768.9,889.9 769.3,892.4 769.6,894.8 770.0,897.3 770.3,899.8 770.7,902.3 771.0,904.7 771.4,907.2 771.7,909.7 772.1,912.2 772.4,914.7 772.8,917.1 773.1,919.6 773.5,922.1 773.8,924.6 774.2,927.0 774.5,929.5 774.9,932.0 775.2,934.5 775.5,937.0 775.9,939.4 776.2,941.9 776.6,944.4 776.9,946.9 777.3,949.3 777.6,951.8 777.9,954.3 778.3,956.8 778.6,959.3 779.0,961.7 779.3,964.2 779.7,966.7 780.0,969.2 780.3,971.7 780.7,974.1 781.0,976.6 781.3,979.1 781.7,981.6 782.0,984.0 782.4,986.5 782.7,989.0 783.0,991.5 783.4,994.0 783.7,996.4 784.0,998.9 784.4,1001.4 784.7,1003.9 785.0,1006.4 785.3,1008.8 785.7,1011.3 786.0,1013.8 786.3,1016.3 786.7,1018.8 787.0,1021.2 787.3,1023.7 787.6,1026.2 788.0,1028.7 788.3,1031.2 788.6,1033.6 789.0,1036.1 789.3,1038.6 789.6,1041.1 790.0,1043.6 790.3,1046.0 790.6,1048.5 791.0,1051.0 791.3,1053.5 791.7,1056.0 792.0,1058.4 792.4,1060.9 792.7,1063.4 793.1,1065.9 793.5,1068.3 793.8,1070.8 794.2,1073.3 794.6,1075.8 795.0,1078.2 795.4,1080.7 795.8,1083.2 796.2,1085.6 796.6,1088.1 797.0,1090.6 797.4,1093.0 797.8,1095.5 798.3,1098.0 798.7,1100.4 799.1,1102.9 799.6,1105.3 800.0,1107.8 800.5,1110.3 801.0,1112.7 801.4,1115.2 801.9,1117.6 802.4,1120.1 802.8,1122.5 803.3,1125.0 803.8,1127.5 804.3,1129.9 804.7,1132.4 805.2,1134.8 805.7,1137.3 806.2,1139.7 806.7,1142.2 807.1,1144.6 807.6,1147.1 808.1,1149.6 808.6,1152.0 809.1,1154.5 809.5,1156.9 810.0,1159.4 810.5,1161.8 810.9,1164.3 811.4,1166.8 811.9,1169.2 812.4,1171.7 812.8,1174.1 813.3,1176.6 813.8,1179.0 814.3,1181.5 814.7,1183.9 815.2,1186.4 815.7,1188.9 816.2,1191.3 816.7,1193.8 817.2,1196.2 817.7,1198.7 818.2,1201.1 818.7,1203.6 819.2,1206.0 819.7,1208.4 820.2,1210.9 820.7,1213.3 821.3,1215.8 821.8,1218.2 822.3,1220.7 822.9,1223.1 823.4,1225.5 823.9,1228.0 824.5,1230.4 825.0,1232.9 825.6,1235.3 826.2,1237.7 826.7,1240.2 827.3,1242.6 827.9,1245.0 828.4,1247.5 829.0,1249.9 829.6,1252.3 830.2,1254.8 830.8,1257.2 831.3,1259.6 831.9,1262.1 832.5,1264.5 833.1,1266.9 833.7,1269.4 834.2,1271.8 834.8,1274.3 835.4,1276.7 836.0,1279.2 836.5,1281.6 837.1,1284.1 837.7,1286.5 838.3,1289.0 838.9,1291.4 839.5,1293.9 840.1,1296.3 840.8,1298.8 841.4,1301.2 842.1,1303.7 842.8,1306.1 843.5,1308.6 844.2,1311.0 844.9,1313.5 845.7,1315.9 846.5,1318.3 847.4,1320.7 848.2,1323.2 849.1,1325.6 850.1,1327.9 851.0,1330.3 852.1,1332.7 853.1,1335.0 854.2,1337.3 855.4,1339.6 856.5,1341.8 857.8,1344.0 859.1,1346.2 860.4,1348.3 861.8,1350.4 863.3,1352.4 864.8,1354.4 866.4,1356.3 868.1,1358.1 869.8,1359.8 871.6,1361.4 873.5,1363.0 875.5,1364.4 877.5,1365.7 879.6,1366.9 881.8,1367.9 884.0,1368.8 886.2,1369.5 888.6,1370.1 890.9,1370.6 893.3,1370.9 895.7,1371.0 898.0,1371.0 900.4,1370.8 902.8,1370.4 905.1,1369.9 907.4,1369.2 909.7,1368.4 911.9,1367.5 914.0,1366.5 916.2,1365.3 918.2,1364.0 920.2,1362.6 922.2,1361.1 924.0,1359.6 925.9,1357.9 927.7,1356.2 929.4,1354.4 931.1,1352.6 932.8,1350.7 934.4,1348.8 936.0,1346.8 937.6,1344.8 939.1,1342.8 940.6,1340.7 942.1,1338.7 943.5,1336.6 945.0,1334.5 946.4,1332.4 947.8,1330.2 949.3,1328.1 950.7,1326.0 952.1,1323.8 953.5,1321.7 954.9,1319.6 956.3,1317.4 957.7,1315.3 959.1,1313.2 960.5,1311.1 961.9,1309.0 963.3,1306.9 964.8,1304.8 966.2,1302.7 967.6,1300.6 969.1,1298.5 970.5,1296.5 972.0,1294.4 973.4,1292.3 974.9,1290.3 976.4,1288.2 977.8,1286.2 979.3,1284.2 980.8,1282.2 982.3,1280.1 983.8,1278.1 985.3,1276.1 986.8,1274.1 988.4,1272.1 989.9,1270.1 991.4,1268.2 993.0,1266.2 994.5,1264.2 996.1,1262.2 997.7,1260.3 999.2,1258.3 1000.8,1256.4 1002.4,1254.4 1004.0,1252.5 1005.7,1250.6 1007.3,1248.7 1008.9,1246.7 1010.6,1244.8 1012.2,1243.0 1013.9,1241.1 1015.6,1239.2 1017.3,1237.4 1019.0,1235.5 1020.8,1233.7 1022.5,1231.9 1024.3,1230.1 1026.1,1228.4 1027.9,1226.6 1029.8,1224.9 1031.6,1223.2 1033.5,1221.6 1035.4,1220.0 1037.3,1218.4 1039.3,1216.9 1041.3,1215.4 1043.3,1213.9 1045.4,1212.6 1047.5,1211.2 1049.6,1210.0 1051.8,1208.7 1054.0,1207.6 1056.2,1206.5 1058.5,1205.5 1060.8,1204.5 1063.1,1203.6 1065.4,1202.8 1067.8,1202.0 1070.2,1201.3 1072.6,1200.7 1075.0,1200.1 1077.5,1199.7 1079.9,1199.3 1082.4,1198.9 1084.8,1198.7 1087.3,1198.5 1089.8,1198.4 1092.3,1198.4 1094.8,1198.5 1097.3,1198.6 1099.7,1198.8 1102.2,1199.1 1104.7,1199.5 1107.1,1199.9 1109.5,1200.4 1111.9,1201.0 1114.3,1201.7 1116.7,1202.4 1119.0,1203.3 1121.3,1204.1 1123.6,1205.1 1125.9,1206.1 1128.1,1207.2 1130.3,1208.3 1132.5,1209.6 1134.6,1210.8 1136.7,1212.2 1138.8,1213.5 1140.8,1215.0 1142.8,1216.4 1144.8,1218.0 1146.7,1219.5 1148.6,1221.1 1150.5,1222.8 1152.4,1224.4 1154.3,1226.1 1156.1,1227.8 1157.9,1229.6 1159.7,1231.3 1161.5,1233.1 1163.3,1234.9 1165.0,1236.7 1166.8,1238.5 1168.5,1240.3 1170.2,1242.1 1172.0,1244.0 1173.7,1245.8 1175.4,1247.7 1177.1,1249.5 1178.8,1251.4 1180.5,1253.3 1182.2,1255.1 1183.8,1257.0 1185.5,1258.8 1187.2,1260.7 1188.9,1262.6 1190.6,1264.5 1192.2,1266.3 1193.9,1268.2 1195.6,1270.1 1197.3,1271.9 1198.9,1273.8 1200.6,1275.7 1202.2,1277.6 1203.9,1279.4 1205.6,1281.3 1207.2,1283.2 1208.9,1285.1 1210.5,1287.0 1212.1,1288.8 1213.8,1290.7 1215.4,1292.6 1217.1,1294.5 1218.7,1296.4 1220.3,1298.3 1221.9,1300.2 1223.6,1302.1 1225.2,1304.0 1226.8,1305.9 1228.4,1307.8 1230.0,1309.7 1231.6,1311.7 1233.2,1313.6 1234.8,1315.5 1236.4,1317.4 1238.0,1319.3 1239.6,1321.3 1241.2,1323.2 1242.8,1325.2 1244.3,1327.1 1245.9,1329.0 1247.5,1331.0 1249.0,1333.0 1250.5,1334.9 1252.1,1336.9 1253.6,1338.9 1255.1,1340.9 1256.7,1342.9 1258.2,1344.8 1259.7,1346.8 1261.2,1348.8 1262.7,1350.8 1264.2,1352.8 1265.7,1354.8 1267.2,1356.8 1268.7,1358.8 1270.2,1360.8 1271.7,1362.9 1273.2,1364.9 1274.7,1366.9 1276.2,1368.9 1277.7,1370.9 1279.2,1372.9 1280.7,1374.9 1282.2,1376.8 1283.7,1378.8 1285.2,1380.8 1286.8,1382.8 1288.3,1384.8 1289.9,1386.7 1291.4,1388.7 1293.0,1390.6 1294.5,1392.6 1296.1,1394.5 1297.7,1396.4 1299.3,1398.3 1300.9,1400.2 1302.6,1402.1 1304.2,1404.0 1305.9,1405.9 1307.5,1407.8 1309.2,1409.6 1310.9,1411.5 1312.6,1413.3 1314.3,1415.1 1316.0,1417.0 1317.7,1418.8 1319.4,1420.6 1321.1,1422.4 1322.8,1424.3 1324.6,1426.1 1326.3,1427.9 1328.0,1429.7 1329.8,1431.5 1331.5,1433.2 1333.3,1435.0 1335.0,1436.8 1336.8,1438.6 1338.6,1440.4 1340.3,1442.1 1342.1,1443.9 1343.9,1445.7 1345.7,1447.4 1347.5,1449.2 1349.3,1450.9 1351.0,1452.7 1352.8,1454.4 1354.7,1456.1 1356.5,1457.9 1358.3,1459.6 1360.1,1461.3 1361.9,1463.0 1363.8,1464.7 1365.6,1466.4 1367.5,1468.1 1369.3,1469.7 1371.2,1471.4 1373.0,1473.1 1374.9,1474.7 1376.8,1476.4 1378.7,1478.0 1380.6,1479.6 1382.5,1481.3 1384.4,1482.9 1386.3,1484.5 1388.3,1486.1 1390.2,1487.7 1392.1,1489.2 1394.1,1490.8 1396.0,1492.4 1398.0,1493.9 1400.0,1495.5 1401.9,1497.0 1403.9,1498.5 1405.9,1500.1 1407.9,1501.6 1409.9,1503.1 1411.9,1504.6 1413.9,1506.1 1415.9,1507.6 1417.9,1509.1 1419.9,1510.5 1422.0,1512.0 1424.0,1513.5 1426.0,1514.9 1428.1,1516.3 1430.2,1517.8 1432.2,1519.2 1434.3,1520.6 1436.3,1522.0 1438.4,1523.4 1440.5,1524.8 1442.6,1526.2 1444.7,1527.5 1446.8,1528.9 1448.9,1530.3 1451.0,1531.6 1453.1,1532.9 1455.3,1534.2 1457.4,1535.5 1459.6,1536.8 1461.7,1538.1 1463.9,1539.4 1466.0,1540.6 1468.2,1541.9 1470.4,1543.1 1472.6,1544.3 1474.7,1545.5 1476.9,1546.7 1479.1,1547.9 1481.4,1549.1 1483.6,1550.2 1485.8,1551.3 1488.1,1552.4 1490.3,1553.5 1492.6,1554.6 1494.8,1555.7 1497.1,1556.7 1499.4,1557.7 1501.7,1558.7 1504.0,1559.7 1506.3,1560.7 1508.6,1561.6 1510.9,1562.5 1513.2,1563.4 1515.6,1564.3 1517.9,1565.2 1520.3,1566.0 1522.6,1566.9 1525.0,1567.7 1527.4,1568.4 1529.7,1569.2 1532.1,1570.0 1534.5,1570.7 1536.9,1571.4 1539.3,1572.1 1541.7,1572.8 1544.1,1573.5 1546.5,1574.1 1549.0,1574.8 1551.4,1575.4 1553.8,1576.0 1556.2,1576.6 1558.7,1577.1 1561.1,1577.7 1563.5,1578.2 1566.0,1578.8 1568.4,1579.3 1570.9,1579.8 1573.3,1580.3 1575.8,1580.8 1578.3,1581.2 1580.7,1581.7 1583.2,1582.1 1585.6,1582.6 1588.1,1583.0 1590.6,1583.4 1593.0,1583.9 1595.5,1584.3 1598.0,1584.7 1600.5,1585.0 1602.9,1585.4 1605.4,1585.8 1607.9,1586.2 1610.4,1586.5 1612.8,1586.9 1615.3,1587.3 1617.8,1587.6 1620.3,1588.0 1622.8,1588.3 1625.2,1588.6 1627.7,1589.0 1630.2,1589.3 1632.7,1589.6 1635.2,1589.9 1637.7,1590.2 1640.1,1590.5 1642.6,1590.8 1645.1,1591.1 1647.6,1591.4 1650.1,1591.7 1652.6,1591.9 1655.1,1592.2 1657.5,1592.5 1660.0,1592.7 1662.5,1593.0 1665.0,1593.2 1667.5,1593.5 1670.0,1593.7 1672.5,1593.9 1675.0,1594.1 1677.5,1594.3 1680.0,1594.5 1682.5,1594.7 1685.0,1594.9 1687.5,1595.1 1689.9,1595.3 1692.4,1595.5 1694.9,1595.7 1697.4,1595.8 1699.9,1596.0 1702.4,1596.2 1704.9,1596.3 1707.4,1596.5 1709.9,1596.6 1712.4,1596.7 1714.9,1596.9 1717.4,1597.0 1719.9,1597.1 1722.4,1597.3 1724.9,1597.4 1727.4,1597.5 1729.9,1597.6 1732.4,1597.7 1734.9,1597.8 1737.4,1597.9 1739.9,1598.0 1742.4,1598.1 1744.9,1598.2 1747.4,1598.3 1749.9,1598.4 1752.4,1598.4 1754.9,1598.5 1757.4,1598.6 1759.9,1598.6 1762.4,1598.7 1764.9,1598.8 1767.4,1598.8 1769.9,1598.9 1772.4,1598.9 1774.9,1599.0 1777.4,1599.0 1779.9,1599.1 1782.4,1599.1 1784.9,1599.2 1787.4,1599.2 1789.9,1599.3 1792.4,1599.3 1794.9,1599.4 1797.4,1599.4 1799.9,1599.4 1802.4,1599.5 1804.9,1599.5 1807.4,1599.5 1809.9,1599.6 1812.4,1599.6 1814.9,1599.6 1817.4,1599.6 1819.9,1599.7 1822.4,1599.7 1825.0,1599.7 1827.5,1599.7 1830.0,1599.8 1832.5,1599.8 1835.0,1599.8 1837.5,1599.8 1840.0,1599.9 1842.5,1599.9 1845.0,1599.9 1847.5,1599.9 1850.0,1599.9 1852.5,1599.9 1855.0,1600.0 1857.5,1600.0 1860.0,1600.0 1862.5,1600.0 1865.0,1600.0 1867.5,1600.0 1870.0,1600.1 1872.5,1600.1 1875.0,1600.1 1877.5,1600.1 1880.0,1600.1 1882.5,1600.1 1885.0,1600.1 1887.5,1600.2 1890.0,1600.2 1892.5,1600.2 1895.0,1600.2" stroke="#14821d" stroke-width="9"/>
</g>
<path d="M326.0,1606.0H355.5M1895.0,1606.0H1865.5M326.0,1386.2H355.5M1895.0,1386.2H1865.5M326.0,1166.4H355.5M1895.0,1166.4H1865.5M326.0,946.6H355.5M1895.0,946.6H1865.5M326.0,726.9H355.5M1895.0,726.9H1865.5M326.0,507.1H355.5M1895.0,507.1H1865.5M326.0,287.3H355.5M1895.0,287.3H1865.5M326.0,67.5H355.5M1895.0,67.5H1865.5M326.0,1606.0V1576.5M326.0,67.5V97.0M587.5,1606.0V1576.5M587.5,67.5V97.0M849.0,1606.0V1576.5M849.0,67.5V97.0M1110.5,1606.0V1576.5M1110.5,67.5V97.0M1372.0,1606.0V1576.5M1372.0,67.5V97.0M1633.5,1606.0V1576.5M1633.5,67.5V97.0M1895.0,1606.0V1576.5M1895.0,67.5V97.0" stroke="#111111" stroke-width="6.5" fill="none"/>
<rect x="326.0" y="67.5" width="1569.0" height="1538.5" fill="none" stroke="#111111" stroke-width="7.5"/>
<g font-family='"Liberation Sans", Arial, Helvetica, sans-serif' fill="#111" font-size="52">
<text x="326.0" y="1680.5" text-anchor="middle">300</text>
<text x="587.5" y="1680.5" text-anchor="middle">400</text>
<text x="849.0" y="1680.5" text-anchor="middle">500</text>
<text x="1110.5" y="1680.5" text-anchor="middle">600</text>
<text x="1372.0" y="1680.5" text-anchor="middle">700</text>
<text x="1633.5" y="1680.5" text-anchor="middle">800</text>
<text x="1895.0" y="1680.5" text-anchor="middle">900</text>
<text x="286.3" y="1619.0" text-anchor="end">0</text>
<text x="286.3" y="1399.2" text-anchor="end">5000</text>
<text x="286" y="1179.4" text-anchor="end">1 10<tspan font-size="36" dy="-25.5">4</tspan></text>
<text x="286" y="959.6" text-anchor="end">1.5 10<tspan font-size="36" dy="-25.5">4</tspan></text>
<text x="286" y="739.9" text-anchor="end">2 10<tspan font-size="36" dy="-25.5">4</tspan></text>
<text x="286" y="520.1" text-anchor="end">2.5 10<tspan font-size="36" dy="-25.5">4</tspan></text>
<text x="286" y="300.3" text-anchor="end">3 10<tspan font-size="36" dy="-25.5">4</tspan></text>
<text x="286" y="80.5" text-anchor="end">3.5 10<tspan font-size="36" dy="-25.5">4</tspan></text>
</g>
<text x="1111.5" y="1745.8" text-anchor="middle" font-family='"Liberation Sans", Arial, Helvetica, sans-serif' font-size="61" fill="#111">wavelength (nm)</text>
<text transform="translate(82.1,838.5) rotate(-90)" text-anchor="middle" font-family='"Liberation Sans", Arial, Helvetica, sans-serif' font-size="61" fill="#111"><tspan font-size="53">ε</tspan> (M<tspan font-size="40" dy="-35.3">-1</tspan><tspan dy="35.3"> cm</tspan><tspan font-size="40" dy="-35.3">-1</tspan><tspan dy="35.3">)</tspan></text>
<g stroke-width="8" fill="none">
<path d="M1332.5,1155.4H1490" stroke="#121212"/>
<path d="M1332.5,1251.8H1490" stroke="#1b7024" stroke-width="9"/>
<path d="M1332.5,1347.9H1490" stroke="#f21616" stroke-dasharray="21 13.7"/>
</g>
<g font-family='"Liberation Sans", Arial, Helvetica, sans-serif' font-size="53">
<text x="1502.5" y="1175" font-weight="bold" fill="#111">1a</text>
<text x="1502.5" y="1271" font-weight="bold" fill="#1b7a24">1b</text>
<text x="1501.5" y="1367" fill="#f21616" font-size="52">78/22 of <tspan font-weight="bold">1a:1b</tspan></text>
</g>
<rect x="866" y="76" width="1022" height="985" fill="#ffffff"/>
<g clip-path="url(#ci)" fill="none" stroke-linejoin="round" stroke-width="4">
<path d="M988.3,111.5L988.5,113.5 988.6,115.5 988.8,117.5 988.9,119.5 989.0,121.5 989.2,123.5 989.3,125.5 989.4,127.5 989.5,129.5 989.6,131.5 989.7,133.5 989.8,135.5 989.9,137.5 990.0,139.5 990.0,141.5 990.1,143.5 990.2,145.5 990.2,147.5 990.3,149.5 990.4,151.5 990.4,153.5 990.5,155.5 990.5,157.6 990.5,159.6 990.6,161.6 990.6,163.6 990.7,165.6 990.7,167.6 990.8,169.6 990.8,171.6 990.9,173.6 990.9,175.6 991.0,177.6 991.0,179.6 991.1,181.6 991.1,183.6 991.2,185.6 991.2,187.6 991.3,189.6 991.3,191.6 991.4,193.6 991.5,195.6 991.5,197.6 991.6,199.6 991.7,201.6 991.7,203.7 991.8,205.7 991.9,207.7 991.9,209.7 992.0,211.7 992.1,213.7 992.2,215.7 992.2,217.7 992.3,219.7 992.4,221.7 992.4,223.7 992.5,225.7 992.6,227.7 992.7,229.7 992.8,231.7 992.9,233.7 992.9,235.7 993.0,237.7 993.1,239.7 993.2,241.7 993.3,243.7 993.4,245.7 993.5,247.7 993.6,249.7 993.7,251.7 993.8,253.7 994.0,255.7 994.1,257.7 994.2,259.7 994.3,261.7 994.5,263.7 994.6,265.7 994.7,267.7 994.9,269.7 995.0,271.7 995.2,273.7 995.3,275.7 995.5,277.7 995.6,279.7 995.8,281.7 996.0,283.7 996.1,285.7 996.3,287.7 996.5,289.7 996.6,291.7 996.8,293.7 997.0,295.7 997.2,297.7 997.4,299.7 997.6,301.7 997.8,303.7 998.0,305.7 998.2,307.7 998.4,309.7 998.6,311.7 998.8,313.7 999.0,315.7 999.2,317.7 999.5,319.7 999.7,321.6 999.9,323.6 1000.2,325.6 1000.4,327.6 1000.7,329.6 1000.9,331.6 1001.2,333.6 1001.4,335.6 1001.7,337.6 1002.0,339.5 1002.3,341.5 1002.5,343.5 1002.8,345.5 1003.1,347.5 1003.4,349.5 1003.7,351.5 1004.0,353.4 1004.3,355.4 1004.6,357.4 1005.0,359.4 1005.3,361.4 1005.6,363.3 1005.9,365.3 1006.3,367.3 1006.6,369.3 1007.0,371.2 1007.3,373.2 1007.7,375.2 1008.0,377.2 1008.4,379.1 1008.8,381.1 1009.1,383.1 1009.5,385.0 1009.9,387.0 1010.3,389.0 1010.7,390.9 1011.1,392.9 1011.5,394.9 1011.9,396.8 1012.3,398.8 1012.7,400.8 1013.1,402.7 1013.5,404.7 1013.9,406.6 1014.3,408.6 1014.8,410.6 1015.2,412.5 1015.6,414.5 1016.0,416.5 1016.4,418.4 1016.9,420.4 1017.3,422.3 1017.7,424.3 1018.1,426.3 1018.6,428.2 1019.0,430.2 1019.4,432.1 1019.8,434.1 1020.3,436.0 1020.7,438.0 1021.1,440.0 1021.6,441.9 1022.0,443.9 1022.4,445.8 1022.8,447.8 1023.3,449.8 1023.7,451.7 1024.1,453.7 1024.5,455.6 1025.0,457.6 1025.4,459.6 1025.8,461.5 1026.2,463.5 1026.6,465.4 1027.1,467.4 1027.5,469.4 1027.9,471.3 1028.3,473.3 1028.7,475.2 1029.2,477.2 1029.6,479.2 1030.0,481.1 1030.4,483.1 1030.9,485.0 1031.3,487.0 1031.7,489.0 1032.2,490.9 1032.6,492.9 1033.1,494.8 1033.5,496.8 1034.0,498.7 1034.4,500.7 1034.9,502.6 1035.3,504.6 1035.8,506.5 1036.3,508.5 1036.7,510.4 1037.2,512.4 1037.7,514.3 1038.1,516.3 1038.6,518.2 1039.1,520.2 1039.6,522.1 1040.0,524.1 1040.5,526.0 1041.0,528.0 1041.5,529.9 1041.9,531.9 1042.4,533.8 1042.9,535.8 1043.4,537.7 1043.8,539.7 1044.3,541.6 1044.7,543.6 1045.2,545.5 1045.6,547.5 1046.1,549.4 1046.5,551.4 1047.0,553.3 1047.4,555.3 1047.9,557.3 1048.3,559.2 1048.7,561.2 1049.1,563.1 1049.5,565.1 1050.0,567.1 1050.4,569.0 1050.8,571.0 1051.2,572.9 1051.6,574.9 1052.0,576.9 1052.3,578.8 1052.7,580.8 1053.1,582.8 1053.5,584.7 1053.9,586.7 1054.3,588.7 1054.7,590.7 1055.1,592.6 1055.4,594.6 1055.8,596.6 1056.2,598.5 1056.6,600.5 1057.0,602.5 1057.4,604.4 1057.7,606.4 1058.1,608.4 1058.5,610.3 1058.9,612.3 1059.3,614.3 1059.7,616.2 1060.1,618.2 1060.5,620.2 1060.9,622.1 1061.3,624.1 1061.7,626.0 1062.1,628.0 1062.5,630.0 1062.9,631.9 1063.4,633.9 1063.8,635.9 1064.2,637.8 1064.6,639.8 1065.0,641.7 1065.5,643.7 1065.9,645.7 1066.3,647.6 1066.7,649.6 1067.2,651.5 1067.6,653.5 1068.0,655.5 1068.5,657.4 1068.9,659.4 1069.3,661.3 1069.8,663.3 1070.2,665.2 1070.6,667.2 1071.0,669.2 1071.5,671.1 1071.9,673.1 1072.3,675.0 1072.8,677.0 1073.2,679.0 1073.6,680.9 1074.1,682.9 1074.5,684.8 1074.9,686.8 1075.4,688.7 1075.8,690.7 1076.2,692.6 1076.7,694.6 1077.1,696.6 1077.5,698.5 1078.0,700.5 1078.4,702.4 1078.8,704.4 1079.3,706.3 1079.7,708.3 1080.1,710.2 1080.6,712.2 1081.0,714.1 1081.4,716.1 1081.9,718.1 1082.3,720.0 1082.7,722.0 1083.2,723.9 1083.6,725.9 1084.0,727.9 1084.5,729.8 1084.9,731.8 1085.3,733.8 1085.8,735.7 1086.2,737.7 1086.6,739.7 1087.1,741.7 1087.5,743.7 1087.9,745.7 1088.3,747.7 1088.8,749.7 1089.2,751.7 1089.6,753.8 1090.1,755.8 1090.6,757.8 1091.1,759.8 1091.7,761.8 1092.2,763.8 1092.9,765.7 1093.6,767.6 1094.3,769.5 1095.2,771.3 1096.1,773.1 1097.2,774.8 1098.4,776.3 1099.7,777.7 1101.2,778.9 1102.8,779.8 1104.5,780.5 1106.3,780.8 1108.1,780.8 1110.0,780.4 1111.8,779.9 1113.7,779.2 1115.5,778.3 1117.4,777.4 1119.2,776.4 1121.1,775.4 1123.0,774.4 1124.9,773.5 1126.8,772.7 1128.7,772.0 1130.7,771.4 1132.7,770.9 1134.6,770.5 1136.6,770.2 1138.6,770.0 1140.6,770.0 1142.6,770.1 1144.6,770.3 1146.5,770.7 1148.4,771.2 1150.3,771.9 1152.0,772.7 1153.8,773.6 1155.4,774.7 1157.0,775.9 1158.5,777.2 1159.9,778.6 1161.2,780.0 1162.5,781.6 1163.8,783.2 1165.0,784.8 1166.1,786.4 1167.3,788.1 1168.4,789.8 1169.5,791.5 1170.6,793.3 1171.6,795.0 1172.7,796.7 1173.7,798.5 1174.8,800.2 1175.8,802.0 1176.8,803.7 1177.8,805.5 1178.8,807.2 1179.8,809.0 1180.8,810.7 1181.9,812.5 1182.9,814.2 1183.9,816.0 1184.9,817.7 1185.9,819.4 1186.9,821.2 1187.9,822.9 1188.9,824.7 1189.9,826.4 1190.9,828.1 1191.9,829.9 1192.9,831.6 1193.8,833.4 1194.8,835.1 1195.8,836.8 1196.8,838.6 1197.8,840.3 1198.8,842.1 1199.8,843.8 1200.8,845.5 1201.8,847.3 1202.8,849.0 1203.8,850.8 1204.7,852.5 1205.7,854.3 1206.7,856.0 1207.7,857.8 1208.7,859.5 1209.7,861.2 1210.7,863.0 1211.7,864.7 1212.7,866.5 1213.7,868.2 1214.7,869.9 1215.7,871.7 1216.7,873.4 1217.7,875.1 1218.8,876.8 1219.8,878.5 1220.9,880.2 1221.9,881.9 1223.0,883.6 1224.1,885.3 1225.2,887.0 1226.3,888.6 1227.5,890.3 1228.6,892.0 1229.7,893.6 1230.9,895.3 1232.0,896.9 1233.2,898.5 1234.3,900.2 1235.5,901.8 1236.7,903.5 1237.8,905.1 1239.0,906.7 1240.2,908.3 1241.4,909.9 1242.7,911.5 1243.9,913.1 1245.2,914.7 1246.4,916.2 1247.8,917.7 1249.1,919.2 1250.4,920.7 1251.8,922.2 1253.2,923.6 1254.7,925.0 1256.1,926.4 1257.6,927.8 1259.1,929.1 1260.6,930.4 1262.2,931.6 1263.8,932.9 1265.4,934.0 1267.1,935.2 1268.7,936.3 1270.5,937.3 1272.2,938.3 1273.9,939.3 1275.7,940.1 1277.6,941.0 1279.4,941.7 1281.3,942.4 1283.2,943.1 1285.1,943.7 1287.0,944.3 1288.9,944.8 1290.9,945.3 1292.8,945.8 1294.8,946.2 1296.7,946.6 1298.7,947.0 1300.7,947.3 1302.7,947.6 1304.7,947.9 1306.7,948.2 1308.7,948.4 1310.7,948.6 1312.7,948.8 1314.7,949.0 1316.7,949.2 1318.7,949.4 1320.7,949.5 1322.7,949.6 1324.7,949.8 1326.7,949.9 1328.7,950.0 1330.7,950.1 1332.7,950.1 1334.7,950.2 1336.7,950.3 1338.7,950.3 1340.7,950.4 1342.7,950.4 1344.7,950.5 1346.7,950.5 1348.7,950.5 1350.8,950.6 1352.8,950.6 1354.8,950.7 1356.8,950.7 1358.8,950.7 1360.8,950.8 1362.8,950.8 1364.8,950.8 1366.8,950.9 1368.8,950.9 1370.8,950.9 1372.8,950.9 1374.8,951.0 1376.8,951.0 1378.8,951.0 1380.8,951.1 1382.8,951.1 1384.9,951.1 1386.9,951.1 1388.9,951.2 1390.9,951.2 1392.9,951.2 1394.9,951.2 1396.9,951.3 1398.9,951.3 1400.9,951.3 1402.9,951.3 1404.9,951.3 1406.9,951.4 1408.9,951.4 1410.9,951.4 1412.9,951.4 1414.9,951.5 1416.9,951.5 1418.9,951.5 1420.9,951.5 1422.9,951.5 1424.9,951.5 1426.9,951.6 1428.9,951.6 1431.0,951.6 1433.0,951.6 1435.0,951.6 1437.0,951.7 1439.0,951.7 1441.0,951.7 1443.0,951.7 1445.0,951.7 1447.0,951.7 1449.0,951.8 1451.0,951.8 1453.0,951.8 1455.0,951.8 1457.0,951.8 1459.0,951.8 1461.0,951.8 1463.0,951.9 1465.0,951.9 1467.0,951.9 1469.0,951.9 1471.0,951.9 1473.0,951.9 1475.0,951.9 1477.1,952.0 1479.1,952.0 1481.1,952.0 1483.1,952.0 1485.1,952.0 1487.1,952.0 1489.1,952.0 1491.1,952.0 1493.1,952.0 1495.1,952.1 1497.1,952.1 1499.1,952.1 1501.1,952.1 1503.1,952.1 1505.1,952.1 1507.1,952.1 1509.1,952.1 1511.1,952.1 1513.1,952.1 1515.1,952.2 1517.1,952.2 1519.2,952.2 1521.2,952.2 1523.2,952.2 1525.2,952.2 1527.2,952.2 1529.2,952.2 1531.2,952.2 1533.2,952.2 1535.2,952.2 1537.2,952.2 1539.2,952.2 1541.2,952.3 1543.2,952.3 1545.2,952.3 1547.2,952.3 1549.2,952.3 1551.2,952.3 1553.2,952.3 1555.2,952.3 1557.2,952.3 1559.2,952.3 1561.3,952.3 1563.3,952.3 1565.3,952.3 1567.3,952.3 1569.3,952.3 1571.3,952.3 1573.3,952.3 1575.3,952.3 1577.3,952.3 1579.3,952.3 1581.3,952.3 1583.3,952.3 1585.3,952.3 1587.3,952.4 1589.3,952.4 1591.3,952.4 1593.3,952.4 1595.3,952.4 1597.3,952.4 1599.3,952.4 1601.4,952.4 1603.4,952.4 1605.4,952.4 1607.4,952.4 1609.4,952.4 1611.4,952.4 1613.4,952.4 1615.4,952.4 1617.4,952.4 1619.4,952.4 1621.4,952.4 1623.4,952.4 1625.4,952.4 1627.4,952.4 1629.4,952.4 1631.4,952.4 1633.4,952.4 1635.4,952.4 1637.4,952.4 1639.4,952.4 1641.5,952.4 1643.5,952.4 1645.5,952.4 1647.5,952.4 1649.5,952.4 1651.5,952.4 1653.5,952.4 1655.5,952.4 1657.5,952.3 1659.5,952.3 1661.5,952.3 1663.5,952.3 1665.5,952.3 1667.5,952.3 1669.5,952.3 1671.5,952.3 1673.5,952.3 1675.5,952.3 1677.5,952.3 1679.6,952.3 1681.6,952.3 1683.6,952.3 1685.6,952.3 1687.6,952.3 1689.6,952.3 1691.6,952.3 1693.6,952.3 1695.6,952.3 1697.6,952.3 1699.6,952.3 1701.6,952.3 1703.6,952.3 1705.6,952.3 1707.6,952.3 1709.6,952.3 1711.6,952.2 1713.6,952.2 1715.6,952.2 1717.7,952.2 1719.7,952.2 1721.7,952.2 1723.7,952.2 1725.7,952.2 1727.7,952.2 1729.7,952.2 1731.7,952.2 1733.7,952.2 1735.7,952.2 1737.7,952.2 1739.7,952.2 1741.7,952.2 1743.7,952.2 1745.7,952.2 1747.7,952.1 1749.7,952.1 1751.7,952.1 1753.8,952.1 1755.8,952.1 1757.8,952.1 1759.8,952.1 1761.8,952.1 1763.8,952.1 1765.8,952.1 1767.8,952.1 1769.8,952.1 1771.8,952.1 1773.8,952.1 1775.8,952.1 1777.8,952.1 1779.8,952.0 1781.8,952.0 1783.8,952.0 1785.8,952.0 1787.8,952.0 1789.8,952.0 1791.9,952.0 1793.9,952.0 1795.9,952.0 1797.9,952.0 1799.9,952.0 1801.9,952.0 1803.9,952.0 1805.9,952.0 1807.9,951.9 1809.9,951.9 1811.9,951.9 1813.9,951.9 1815.9,951.9 1817.9,951.9 1819.9,951.9 1821.9,951.9 1823.9,951.9 1825.9,951.9 1828.0,951.9 1830.0,951.9 1832.0,951.9 1834.0,951.8 1836.0,951.8 1838.0,951.8 1840.0,951.8 1842.0,951.8 1844.0,951.8 1846.0,951.8" stroke="#c4a23a"/>
<path d="M988.3,111.5L988.5,113.5 988.6,115.5 988.8,117.5 988.9,119.5 989.1,121.5 989.2,123.5 989.3,125.5 989.5,127.5 989.6,129.5 989.7,131.5 989.8,133.5 989.9,135.5 990.1,137.5 990.2,139.5 990.3,141.5 990.3,143.5 990.4,145.5 990.5,147.5 990.6,149.5 990.7,151.5 990.8,153.5 990.8,155.5 990.9,157.5 991.0,159.5 991.1,161.5 991.1,163.5 991.2,165.5 991.3,167.5 991.3,169.5 991.4,171.5 991.5,173.5 991.5,175.5 991.6,177.5 991.7,179.5 991.8,181.5 991.9,183.5 991.9,185.5 992.0,187.5 992.1,189.5 992.2,191.5 992.3,193.5 992.4,195.5 992.5,197.5 992.6,199.5 992.7,201.5 992.8,203.5 992.9,205.5 993.0,207.5 993.1,209.5 993.2,211.5 993.3,213.5 993.4,215.5 993.5,217.5 993.6,219.5 993.7,221.5 993.8,223.5 993.9,225.5 994.0,227.5 994.1,229.5 994.2,231.5 994.3,233.5 994.4,235.5 994.5,237.5 994.6,239.5 994.7,241.5 994.8,243.5 994.9,245.5 995.0,247.5 995.1,249.5 995.2,251.5 995.3,253.5 995.5,255.5 995.6,257.5 995.7,259.5 995.8,261.5 996.0,263.5 996.1,265.5 996.2,267.5 996.4,269.4 996.5,271.4 996.6,273.4 996.8,275.4 997.0,277.4 997.1,279.4 997.3,281.4 997.4,283.4 997.6,285.4 997.8,287.4 997.9,289.4 998.1,291.4 998.3,293.4 998.5,295.4 998.7,297.4 998.9,299.4 999.0,301.4 999.2,303.4 999.4,305.4 999.6,307.3 999.8,309.3 1000.1,311.3 1000.3,313.3 1000.5,315.3 1000.7,317.3 1000.9,319.3 1001.1,321.3 1001.4,323.3 1001.6,325.3 1001.8,327.2 1002.1,329.2 1002.3,331.2 1002.6,333.2 1002.8,335.2 1003.0,337.2 1003.3,339.2 1003.6,341.2 1003.8,343.1 1004.1,345.1 1004.3,347.1 1004.6,349.1 1004.9,351.1 1005.2,353.1 1005.4,355.0 1005.7,357.0 1006.0,359.0 1006.3,361.0 1006.6,363.0 1006.9,365.0 1007.2,366.9 1007.5,368.9 1007.8,370.9 1008.1,372.9 1008.4,374.8 1008.7,376.8 1009.0,378.8 1009.3,380.8 1009.6,382.8 1010.0,384.7 1010.3,386.7 1010.6,388.7 1010.9,390.7 1011.3,392.6 1011.6,394.6 1011.9,396.6 1012.2,398.6 1012.6,400.5 1012.9,402.5 1013.3,404.5 1013.6,406.5 1013.9,408.4 1014.3,410.4 1014.6,412.4 1015.0,414.3 1015.3,416.3 1015.7,418.3 1016.0,420.3 1016.4,422.2 1016.8,424.2 1017.1,426.2 1017.5,428.1 1017.8,430.1 1018.2,432.1 1018.6,434.0 1018.9,436.0 1019.3,438.0 1019.7,439.9 1020.0,441.9 1020.4,443.9 1020.8,445.8 1021.1,447.8 1021.5,449.8 1021.9,451.7 1022.3,453.7 1022.6,455.7 1023.0,457.6 1023.4,459.6 1023.8,461.6 1024.2,463.5 1024.5,465.5 1024.9,467.5 1025.3,469.4 1025.7,471.4 1026.1,473.4 1026.5,475.3 1026.9,477.3 1027.3,479.3 1027.7,481.2 1028.1,483.2 1028.5,485.1 1028.9,487.1 1029.3,489.1 1029.7,491.0 1030.2,493.0 1030.6,494.9 1031.0,496.9 1031.5,498.8 1031.9,500.8 1032.4,502.7 1032.8,504.7 1033.3,506.6 1033.8,508.6 1034.2,510.5 1034.7,512.5 1035.2,514.4 1035.6,516.4 1036.1,518.3 1036.6,520.3 1037.1,522.2 1037.5,524.1 1038.0,526.1 1038.5,528.0 1039.0,530.0 1039.4,531.9 1039.9,533.9 1040.4,535.8 1040.9,537.8 1041.3,539.7 1041.8,541.7 1042.2,543.6 1042.7,545.6 1043.2,547.5 1043.6,549.5 1044.0,551.4 1044.5,553.4 1044.9,555.3 1045.4,557.3 1045.8,559.2 1046.2,561.2 1046.6,563.1 1047.0,565.1 1047.5,567.1 1047.9,569.0 1048.3,571.0 1048.7,572.9 1049.1,574.9 1049.5,576.9 1049.8,578.8 1050.2,580.8 1050.6,582.8 1051.0,584.7 1051.4,586.7 1051.8,588.6 1052.2,590.6 1052.5,592.6 1052.9,594.5 1053.3,596.5 1053.7,598.5 1054.1,600.4 1054.5,602.4 1054.8,604.4 1055.2,606.3 1055.6,608.3 1056.0,610.3 1056.4,612.2 1056.8,614.2 1057.2,616.2 1057.6,618.1 1058.0,620.1 1058.4,622.0 1058.8,624.0 1059.2,626.0 1059.6,627.9 1060.0,629.9 1060.4,631.8 1060.8,633.8 1061.2,635.8 1061.7,637.7 1062.1,639.7 1062.5,641.6 1062.9,643.6 1063.4,645.5 1063.8,647.5 1064.2,649.5 1064.6,651.4 1065.1,653.4 1065.5,655.3 1065.9,657.3 1066.4,659.2 1066.8,661.2 1067.2,663.1 1067.7,665.1 1068.1,667.1 1068.5,669.0 1068.9,671.0 1069.4,672.9 1069.8,674.9 1070.2,676.8 1070.7,678.8 1071.1,680.7 1071.5,682.7 1071.9,684.6 1072.4,686.6 1072.8,688.5 1073.2,690.5 1073.7,692.4 1074.1,694.4 1074.6,696.3 1075.0,698.3 1075.4,700.2 1075.9,702.2 1076.3,704.1 1076.7,706.1 1077.2,708.0 1077.6,710.0 1078.1,711.9 1078.5,713.9 1078.9,715.8 1079.4,717.8 1079.8,719.8 1080.3,721.7 1080.7,723.7 1081.1,725.7 1081.6,727.7 1082.0,729.7 1082.5,731.7 1082.9,733.7 1083.4,735.8 1083.9,737.8 1084.4,739.8 1084.9,741.8 1085.4,743.9 1086.0,745.9 1086.6,748.0 1087.2,750.0 1087.9,752.0 1088.7,754.0 1089.5,756.0 1090.4,757.9 1091.4,759.7 1092.5,761.4 1093.7,762.9 1095.0,764.2 1096.3,765.1 1097.7,765.5 1099.0,765.2 1100.4,764.3 1101.7,763.0 1102.9,761.4 1104.1,759.6 1105.2,757.7 1106.2,755.7 1107.1,753.8 1107.9,751.8 1108.7,749.7 1109.5,747.7 1110.2,745.7 1110.8,743.6 1111.4,741.6 1112.0,739.6 1112.6,737.6 1113.2,735.6 1113.7,733.6 1114.3,731.6 1114.8,729.6 1115.3,727.6 1115.8,725.7 1116.3,723.7 1116.8,721.8 1117.3,719.8 1117.7,717.9 1118.2,716.0 1118.7,714.1 1119.2,712.1 1119.7,710.2 1120.2,708.3 1120.7,706.3 1121.2,704.4 1121.7,702.5 1122.3,700.6 1122.8,698.7 1123.3,696.7 1123.9,694.8 1124.4,692.9 1124.9,691.0 1125.5,689.0 1126.0,687.1 1126.5,685.2 1127.0,683.2 1127.5,681.3 1128.1,679.4 1128.6,677.4 1129.0,675.5 1129.5,673.6 1130.0,671.6 1130.4,669.7 1130.9,667.7 1131.3,665.8 1131.7,663.8 1132.1,661.8 1132.5,659.9 1132.9,657.9 1133.3,656.0 1133.6,654.0 1133.9,652.0 1134.3,650.0 1134.6,648.1 1134.9,646.1 1135.2,644.1 1135.5,642.1 1135.8,640.1 1136.1,638.2 1136.4,636.2 1136.7,634.2 1137.0,632.2 1137.3,630.2 1137.6,628.3 1137.9,626.3 1138.2,624.3 1138.5,622.3 1138.8,620.3 1139.1,618.4 1139.4,616.4 1139.8,614.4 1140.1,612.4 1140.4,610.4 1140.7,608.5 1141.0,606.5 1141.4,604.5 1141.7,602.5 1142.0,600.6 1142.3,598.6 1142.6,596.6 1143.0,594.6 1143.3,592.7 1143.6,590.7 1143.9,588.7 1144.3,586.7 1144.6,584.8 1144.9,582.8 1145.2,580.8 1145.5,578.8 1145.8,576.8 1146.1,574.9 1146.4,572.9 1146.7,570.9 1147.0,568.9 1147.2,566.9 1147.5,565.0 1147.7,563.0 1148.0,561.0 1148.2,559.0 1148.4,557.0 1148.7,555.0 1148.9,553.0 1149.1,551.0 1149.3,549.0 1149.5,547.0 1149.7,545.1 1149.9,543.1 1150.1,541.1 1150.3,539.1 1150.5,537.1 1150.7,535.1 1150.9,533.1 1151.1,531.1 1151.4,529.1 1151.6,527.1 1151.9,525.2 1152.1,523.2 1152.4,521.2 1152.7,519.2 1153.0,517.2 1153.3,515.2 1153.6,513.3 1154.0,511.3 1154.3,509.3 1154.7,507.3 1155.0,505.4 1155.4,503.4 1155.8,501.4 1156.2,499.5 1156.7,497.5 1157.1,495.6 1157.6,493.6 1158.0,491.7 1158.5,489.7 1159.0,487.8 1159.6,485.9 1160.1,483.9 1160.7,482.0 1161.3,480.1 1162.0,478.3 1162.7,476.4 1163.4,474.6 1164.2,472.7 1165.0,470.9 1165.8,469.1 1166.7,467.3 1167.5,465.4 1168.4,463.6 1169.3,461.8 1170.1,460.0 1170.9,458.2 1171.8,456.4 1172.6,454.6 1173.3,452.7 1174.1,450.9 1174.7,449.0 1175.4,447.1 1176.0,445.2 1176.6,443.3 1177.1,441.4 1177.6,439.4 1178.1,437.5 1178.5,435.5 1178.9,433.5 1179.3,431.4 1179.6,429.4 1180.0,427.3 1180.3,425.2 1180.6,423.1 1180.9,420.9 1181.2,418.7 1181.5,416.5 1181.8,414.3 1182.1,412.1 1182.5,409.8 1182.8,407.5 1183.1,405.3 1183.5,403.0 1183.9,400.8 1184.4,398.7 1184.9,396.7 1185.5,394.7 1186.1,393.0 1186.9,391.4 1187.6,390.2 1188.5,389.6 1189.4,389.6 1190.4,390.3 1191.3,391.7 1192.3,393.3 1193.1,395.2 1193.9,397.2 1194.5,399.2 1195.0,401.3 1195.4,403.3 1195.8,405.4 1196.1,407.5 1196.3,409.7 1196.5,411.8 1196.7,414.0 1196.8,416.1 1196.9,418.2 1197.0,420.3 1197.1,422.4 1197.2,424.5 1197.3,426.6 1197.4,428.6 1197.5,430.7 1197.6,432.7 1197.7,434.7 1197.8,436.7 1197.9,438.8 1198.0,440.8 1198.1,442.8 1198.2,444.8 1198.3,446.8 1198.4,448.8 1198.6,450.8 1198.7,452.8 1198.8,454.7 1199.0,456.7 1199.1,458.7 1199.3,460.7 1199.4,462.7 1199.5,464.7 1199.7,466.7 1199.8,468.7 1200.0,470.7 1200.2,472.7 1200.3,474.7 1200.5,476.7 1200.6,478.6 1200.8,480.6 1201.0,482.6 1201.2,484.6 1201.3,486.6 1201.5,488.6 1201.7,490.6 1201.9,492.6 1202.1,494.6 1202.3,496.6 1202.5,498.6 1202.7,500.6 1202.9,502.6 1203.0,504.6 1203.2,506.6 1203.4,508.5 1203.6,510.5 1203.8,512.5 1203.9,514.5 1204.1,516.5 1204.3,518.5 1204.4,520.5 1204.6,522.5 1204.7,524.5 1204.8,526.5 1205.0,528.5 1205.1,530.5 1205.2,532.5 1205.4,534.5 1205.5,536.5 1205.6,538.5 1205.7,540.5 1205.8,542.5 1205.9,544.5 1206.0,546.5 1206.1,548.5 1206.2,550.5 1206.3,552.5 1206.4,554.5 1206.5,556.5 1206.6,558.5 1206.8,560.5 1206.9,562.5 1207.0,564.5 1207.1,566.5 1207.2,568.5 1207.3,570.5 1207.4,572.5 1207.5,574.5 1207.6,576.5 1207.7,578.5 1207.8,580.5 1207.9,582.5 1208.1,584.5 1208.2,586.5 1208.3,588.5 1208.4,590.5 1208.5,592.5 1208.7,594.5 1208.8,596.5 1208.9,598.5 1209.0,600.5 1209.2,602.5 1209.3,604.5 1209.4,606.5 1209.6,608.5 1209.7,610.5 1209.8,612.5 1210.0,614.4 1210.1,616.4 1210.2,618.4 1210.4,620.4 1210.5,622.4 1210.7,624.4 1210.8,626.4 1210.9,628.4 1211.1,630.4 1211.2,632.4 1211.4,634.4 1211.5,636.4 1211.7,638.4 1211.8,640.4 1212.0,642.4 1212.1,644.4 1212.3,646.4 1212.4,648.4 1212.6,650.4 1212.7,652.4 1212.9,654.4 1213.0,656.4 1213.2,658.4 1213.3,660.4 1213.5,662.4 1213.6,664.4 1213.8,666.4 1213.9,668.4 1214.1,670.4 1214.2,672.4 1214.4,674.3 1214.5,676.3 1214.7,678.3 1214.8,680.3 1215.0,682.3 1215.2,684.3 1215.3,686.3 1215.5,688.3 1215.6,690.3 1215.8,692.3 1216.0,694.3 1216.1,696.3 1216.3,698.3 1216.4,700.3 1216.6,702.3 1216.8,704.3 1216.9,706.3 1217.1,708.3 1217.2,710.3 1217.4,712.3 1217.6,714.3 1217.7,716.3 1217.9,718.3 1218.1,720.3 1218.2,722.2 1218.4,724.2 1218.5,726.2 1218.7,728.2 1218.9,730.2 1219.0,732.2 1219.2,734.2 1219.4,736.2 1219.5,738.2 1219.7,740.2 1219.8,742.2 1220.0,744.2 1220.1,746.2 1220.3,748.2 1220.5,750.2 1220.6,752.2 1220.8,754.2 1220.9,756.2 1221.1,758.2 1221.2,760.2 1221.4,762.2 1221.5,764.2 1221.7,766.2 1221.9,768.2 1222.0,770.1 1222.2,772.1 1222.4,774.1 1222.6,776.1 1222.8,778.1 1223.0,780.1 1223.2,782.1 1223.4,784.1 1223.6,786.1 1223.9,788.1 1224.1,790.1 1224.4,792.0 1224.6,794.0 1224.9,796.0 1225.2,798.0 1225.4,800.0 1225.7,802.0 1226.0,804.0 1226.3,805.9 1226.6,807.9 1227.0,809.9 1227.3,811.9 1227.6,813.9 1228.0,815.8 1228.4,817.8 1228.8,819.8 1229.2,821.7 1229.7,823.7 1230.2,825.6 1230.7,827.6 1231.2,829.5 1231.8,831.4 1232.4,833.3 1233.0,835.2 1233.7,837.1 1234.4,839.0 1235.1,840.9 1235.9,842.7 1236.8,844.5 1237.7,846.3 1238.6,848.1 1239.6,849.9 1240.6,851.6 1241.7,853.3 1242.9,854.9 1244.1,856.5 1245.3,858.1 1246.6,859.6 1248.0,861.1 1249.4,862.5 1250.9,863.8 1252.5,865.1 1254.1,866.3 1255.7,867.4 1257.4,868.4 1259.2,869.3 1261.0,870.2 1262.9,870.9 1264.7,871.6 1266.7,872.2 1268.6,872.7 1270.6,873.1 1272.5,873.4 1274.5,873.7 1276.5,873.8 1278.6,874.0 1280.6,874.0 1282.6,874.1 1284.6,874.1 1286.6,874.0 1288.6,873.9 1290.6,873.7 1292.6,873.5 1294.6,873.3 1296.6,873.0 1298.5,872.7 1300.5,872.3 1302.4,871.8 1304.4,871.3 1306.3,870.8 1308.2,870.2 1310.1,869.7 1312.0,869.0 1313.9,868.4 1315.8,867.8 1317.7,867.1 1319.6,866.4 1321.5,865.8 1323.4,865.1 1325.3,864.5 1327.2,863.8 1329.1,863.2 1331.0,862.6 1332.9,862.0 1334.8,861.4 1336.7,860.7 1338.7,860.1 1340.6,859.5 1342.5,859.0 1344.4,858.4 1346.3,857.8 1348.2,857.2 1350.2,856.6 1352.1,856.1 1354.0,855.5 1355.9,855.0 1357.8,854.4 1359.8,853.9 1361.7,853.3 1363.6,852.8 1365.6,852.3 1367.5,851.8 1369.4,851.2 1371.4,850.7 1373.3,850.2 1375.2,849.7 1377.2,849.1 1379.1,848.6 1381.0,848.1 1382.9,847.5 1384.9,847.0 1386.8,846.4 1388.7,845.9 1390.6,845.3 1392.6,844.8 1394.5,844.2 1396.4,843.7 1398.4,843.2 1400.3,842.7 1402.2,842.2 1404.2,841.8 1406.1,841.4 1408.1,841.0 1410.1,840.6 1412.0,840.2 1414.0,839.9 1416.0,839.6 1418.0,839.4 1420.0,839.1 1422.0,838.9 1423.9,838.7 1425.9,838.5 1427.9,838.3 1429.9,838.2 1431.9,838.0 1433.9,838.0 1435.9,837.9 1438.0,837.9 1440.0,837.9 1442.0,837.9 1444.0,838.0 1446.0,838.1 1448.0,838.2 1450.0,838.4 1452.0,838.6 1454.0,838.8 1456.0,839.1 1458.0,839.4 1460.0,839.8 1461.9,840.2 1463.9,840.7 1465.8,841.2 1467.7,841.7 1469.6,842.3 1471.5,843.0 1473.4,843.7 1475.2,844.5 1477.0,845.3 1478.7,846.2 1480.5,847.2 1482.2,848.2 1483.9,849.2 1485.6,850.3 1487.3,851.4 1488.9,852.6 1490.5,853.8 1492.2,855.0 1493.8,856.2 1495.4,857.4 1497.0,858.6 1498.6,859.9 1500.1,861.1 1501.7,862.4 1503.3,863.6 1504.8,864.9 1506.4,866.2 1507.9,867.4 1509.5,868.7 1511.0,870.0 1512.6,871.3 1514.1,872.6 1515.6,873.9 1517.1,875.2 1518.6,876.6 1520.1,877.9 1521.6,879.2 1523.1,880.6 1524.6,881.9 1526.1,883.2 1527.6,884.6 1529.0,886.0 1530.5,887.3 1532.0,888.7 1533.4,890.0 1534.9,891.4 1536.3,892.8 1537.8,894.2 1539.2,895.6 1540.7,897.0 1542.1,898.4 1543.6,899.7 1545.0,901.1 1546.5,902.5 1547.9,903.9 1549.4,905.3 1550.8,906.6 1552.3,908.0 1553.8,909.3 1555.3,910.7 1556.8,912.0 1558.3,913.3 1559.9,914.6 1561.4,915.8 1563.0,917.1 1564.5,918.3 1566.1,919.5 1567.7,920.7 1569.4,921.9 1571.0,923.1 1572.6,924.2 1574.3,925.3 1576.0,926.4 1577.7,927.4 1579.4,928.4 1581.2,929.4 1582.9,930.4 1584.7,931.4 1586.5,932.3 1588.3,933.2 1590.1,934.0 1591.9,934.9 1593.7,935.7 1595.5,936.5 1597.4,937.3 1599.2,938.0 1601.1,938.8 1603.0,939.5 1604.9,940.2 1606.8,940.8 1608.7,941.5 1610.6,942.1 1612.5,942.7 1614.4,943.3 1616.3,943.8 1618.3,944.3 1620.2,944.8 1622.1,945.3 1624.1,945.7 1626.0,946.2 1628.0,946.6 1630.0,946.9 1631.9,947.3 1633.9,947.6 1635.9,948.0 1637.9,948.2 1639.9,948.5 1641.8,948.8 1643.8,949.0 1645.8,949.2 1647.8,949.4 1649.8,949.6 1651.8,949.8 1653.8,949.9 1655.8,950.1 1657.8,950.2 1659.8,950.3 1661.8,950.4 1663.8,950.5 1665.8,950.6 1667.8,950.7 1669.8,950.8 1671.8,950.8 1673.8,950.9 1675.8,950.9 1677.8,951.0 1679.8,951.0 1681.8,951.1 1683.8,951.1 1685.8,951.2 1687.8,951.2 1689.8,951.2 1691.8,951.3 1693.8,951.3 1695.8,951.3 1697.8,951.4 1699.8,951.4 1701.8,951.4 1703.9,951.4 1705.9,951.4 1707.9,951.5 1709.9,951.5 1711.9,951.5 1713.9,951.5 1715.9,951.5 1717.9,951.5 1719.9,951.5 1721.9,951.5 1723.9,951.5 1725.9,951.5 1727.9,951.5 1729.9,951.5 1731.9,951.5 1733.9,951.5 1735.9,951.5 1737.9,951.5 1739.9,951.5 1741.9,951.5 1743.9,951.5 1745.9,951.5 1747.9,951.5 1749.9,951.5 1751.9,951.5 1753.9,951.5 1755.9,951.5 1757.9,951.5 1759.9,951.5 1761.9,951.5 1763.9,951.5 1765.9,951.5 1767.9,951.5 1769.9,951.5 1771.9,951.5 1773.9,951.5 1775.9,951.5 1777.9,951.5 1779.9,951.5 1781.9,951.5 1783.9,951.5 1785.9,951.5 1787.9,951.5 1789.9,951.5 1791.9,951.5 1793.9,951.5 1795.9,951.5 1797.9,951.5 1800.0,951.5 1802.0,951.5 1804.0,951.5 1806.0,951.5 1808.0,951.5 1810.0,951.5 1812.0,951.5 1814.0,951.5 1816.0,951.5 1818.0,951.5 1820.0,951.5 1822.0,951.5 1824.0,951.5 1826.0,951.5 1828.0,951.5 1830.0,951.5 1832.0,951.5 1834.0,951.5 1836.0,951.5 1838.0,951.5 1840.0,951.5 1842.0,951.5 1844.0,951.5 1846.0,951.5" stroke="#1d6f27"/>
</g>
<path d="M987.9,832.0H1003.4M1847.1,832.0H1831.6M987.9,711.7H1003.4M1847.1,711.7H1831.6M987.9,591.4H1003.4M1847.1,591.4H1831.6M987.9,471.1H1003.4M1847.1,471.1H1831.6M987.9,350.8H1003.4M1847.1,350.8H1831.6M987.9,230.5H1003.4M1847.1,230.5H1831.6M1131.1,952.3V936.8M1131.1,110.2V125.7M1274.3,952.3V936.8M1274.3,110.2V125.7M1417.5,952.3V936.8M1417.5,110.2V125.7M1560.7,952.3V936.8M1560.7,110.2V125.7M1703.9,952.3V936.8M1703.9,110.2V125.7" stroke="#111111" stroke-width="3.2" fill="none"/>
<rect x="1085" y="168" width="757" height="155" fill="#ffffff"/>
<path d="M1090,193.3H1176" stroke="#c4a23a" stroke-width="4" fill="none"/>
<path d="M1090,243.5H1176" stroke="#1d6f27" stroke-width="4" fill="none"/>
<g font-family='"Liberation Sans", Arial, Helvetica, sans-serif' font-size="43">
<text x="1181.5" y="209.9" fill="#c2a040">experimental 1a before irradiation</text>
<text x="1181.5" y="260.5" fill="#2a7a36">experimental 1a after irradiation</text>
<text x="1181.5" y="309.8" fill="#2a7a36">(mixture of 1a and 1b)</text>
</g>
<rect x="987.9" y="110.2" width="859.2" height="842.1" fill="none" stroke="#111111" stroke-width="3.4"/>
<g font-family='"Liberation Sans", Arial, Helvetica, sans-serif' fill="#222" font-size="33.5">
<text x="987.9" y="994" text-anchor="middle">300</text>
<text x="1131.1" y="994" text-anchor="middle">400</text>
<text x="1274.3" y="994" text-anchor="middle">500</text>
<text x="1417.5" y="994" text-anchor="middle">600</text>
<text x="1560.7" y="994" text-anchor="middle">700</text>
<text x="1703.9" y="994" text-anchor="middle">800</text>
<text x="1847.1" y="994" text-anchor="middle">900</text>
<text x="965.5" y="960.6" text-anchor="end">0</text>
<text x="965.5" y="840.3" text-anchor="end">0.1</text>
<text x="965.5" y="720.0" text-anchor="end">0.2</text>
<text x="965.5" y="599.7" text-anchor="end">0.3</text>
<text x="965.5" y="479.4" text-anchor="end">0.4</text>
<text x="965.5" y="359.1" text-anchor="end">0.5</text>
<text x="965.5" y="238.8" text-anchor="end">0.6</text>
<text x="965.5" y="118.5" text-anchor="end">0.7</text>
</g>
<text x="1417.5" y="1044" text-anchor="middle" font-family='"Liberation Sans", Arial, Helvetica, sans-serif' font-size="43" fill="#222">wavelength (nm)</text>
<text transform="translate(898.4,530.7) rotate(-90)" text-anchor="middle" font-family='"Liberation Sans", Arial, Helvetica, sans-serif' font-size="42" fill="#222">absorbance (a.u.)</text>
</svg>
</body></html>
